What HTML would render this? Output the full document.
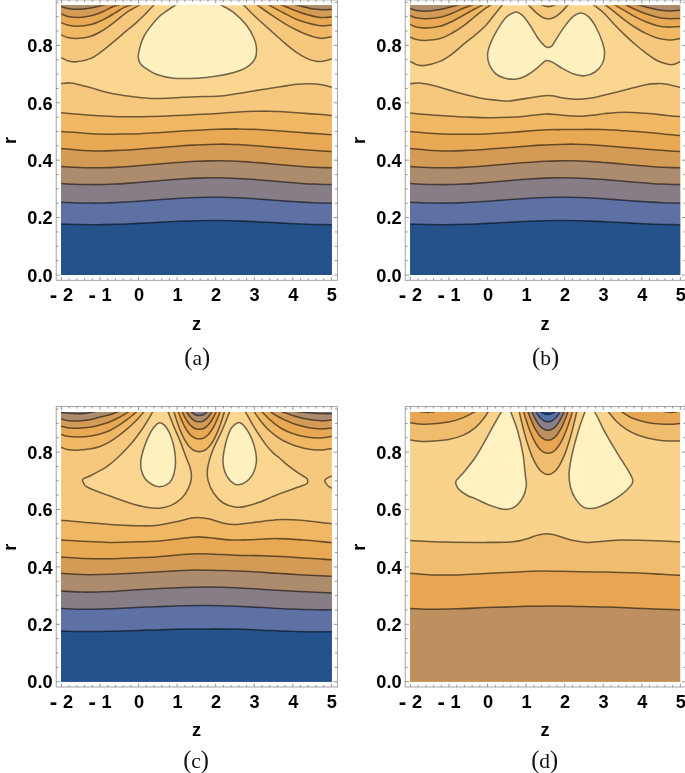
<!DOCTYPE html>
<html><head><meta charset="utf-8"><title>Contour plots</title>
<style>html,body{margin:0;padding:0;background:#fff}svg{display:block}</style></head>
<body>
<svg width="685" height="773" viewBox="0 0 685 773">
<defs><clipPath id="clipA"><rect x="0" y="0" width="270.7" height="269.8"/></clipPath><clipPath id="clipB"><rect x="0" y="0" width="270" height="269.8"/></clipPath></defs>
<rect width="685" height="773" fill="#fff"/>
<g transform="translate(61.1 5.2)" clip-path="url(#clipA)">
<rect x="-1" y="-1" width="272.7" height="271.8" fill="#FBD690"/>
<path d="M-6 52.6C-5 52.6 -2.1 52.12 0 52.6C2.1 53.08 4.02 54.83 6.6 55.5C9.18 56.17 11.62 56.98 15.5 56.6C19.38 56.22 25.55 55.05 29.9 53.2C34.25 51.35 37.7 48.37 41.6 45.5C45.5 42.63 49.4 39.25 53.3 36C57.2 32.75 61.38 29.07 65 26C68.62 22.93 71.67 20.6 75 17.6C78.33 14.6 82.07 10.93 85 8C87.93 5.07 90.7 2 92.6 0C94.5 -2 95.77 -3.34 96.4 -4.01L96.4 -8L-8 -8L-8 52.6Z" fill="#F6C87D"/>
<path d="M-6 29.8C-5 29.8 -2.1 29.37 0 29.8C2.1 30.23 3.93 31.82 6.6 32.4C9.27 32.98 12.12 33.53 16 33.3C19.88 33.07 25.63 32.35 29.9 31C34.17 29.65 37.7 27.53 41.6 25.2C45.5 22.87 49.4 19.93 53.3 17C57.2 14.07 60.88 10.43 65 7.6C69.12 4.77 74.75 1.9 78 0C81.25 -1.9 83.42 -3.17 84.5 -3.81L84.5 -8L-8 -8L-8 29.8Z" fill="#F0B865"/>
<path d="M-6 17.6C-5 17.6 -2.1 17.22 0 17.6C2.1 17.98 3.93 19.32 6.6 19.9C9.27 20.48 12.12 21.2 16 21.1C19.88 21 25.63 20.37 29.9 19.3C34.17 18.23 37.7 16.55 41.6 14.7C45.5 12.85 49.8 10.25 53.3 8.2C56.8 6.15 59.98 3.77 62.6 2.4C65.22 1.03 67.4 0.6 69 0C70.6 -0.6 71.67 -1.01 72.2 -1.21L72.2 -8L-8 -8L-8 17.6Z" fill="#E9A853"/>
<path d="M-6 8.8C-5 8.8 -2.1 8.4 0 8.8C2.1 9.2 3.75 10.62 6.6 11.2C9.45 11.78 13.22 12.4 17.1 12.3C20.98 12.2 25.82 11.57 29.9 10.6C33.98 9.63 38.08 7.97 41.6 6.5C45.12 5.03 48.52 2.88 51 1.8C53.48 0.72 55.12 0.45 56.5 0C57.88 -0.45 58.79 -0.76 59.25 -0.91L59.25 -8L-8 -8L-8 8.8Z" fill="#D49B56"/>
<path d="M-6 1.6C-5 1.6 -2.1 1.33 0 1.6C2.1 1.87 3.75 2.78 6.6 3.2C9.45 3.62 13.22 4.18 17.1 4.1C20.98 4.02 25.82 3.38 29.9 2.7C33.98 2.02 38.67 0.68 41.6 0C44.53 -0.68 46.48 -1.13 47.45 -1.36L47.45 -8L-8 -8L-8 1.6Z" fill="#AD8B6D"/>
<path d="M179.2 -3.76C179.8 -3.13 181 -1.88 182.8 0C184.6 1.88 187.32 4.87 190 7.5C192.68 10.13 195.47 12.67 198.9 15.8C202.33 18.93 206.7 22.8 210.6 26.3C214.5 29.8 218.42 33.48 222.3 36.8C226.18 40.12 230.02 43.47 233.9 46.2C237.78 48.93 242.1 51.55 245.6 53.2C249.1 54.85 252.17 55.62 254.9 56.1C257.63 56.58 259.37 56.48 262 56.1C264.63 55.72 268.08 54.49 270.7 53.8C273.32 53.11 276.53 52.26 277.7 51.95L278.7 -8L179.2 -8Z" fill="#F6C87D"/>
<path d="M195.45 -0.91C195.64 -0.76 196.02 -0.45 196.6 0C197.18 0.45 196.57 0.13 198.9 1.8C201.23 3.47 206.7 7.37 210.6 10C214.5 12.63 218.42 15.27 222.3 17.6C226.18 19.93 230.02 22.05 233.9 24C237.78 25.95 241.7 27.83 245.6 29.3C249.5 30.77 254.57 32.17 257.3 32.8C260.03 33.43 259.77 33.3 262 33.1C264.23 32.9 268.08 32.05 270.7 31.6C273.32 31.15 276.53 30.59 277.7 30.39L278.7 -8L195.45 -8Z" fill="#F0B865"/>
<path d="M201.15 -3.81C202.32 -3.17 204.67 -1.9 208.2 0C211.72 1.9 218.02 5.35 222.3 7.6C226.58 9.85 230.02 11.83 233.9 13.5C237.78 15.17 241.7 16.47 245.6 17.6C249.5 18.73 254.18 19.82 257.3 20.3C260.42 20.78 262.07 20.6 264.3 20.5C266.53 20.4 268.47 19.98 270.7 19.7C272.93 19.42 276.53 18.97 277.7 18.83L278.7 -8L201.15 -8Z" fill="#E9A853"/>
<path d="M214.7 -2.66C215.77 -2.22 217.9 -1.33 221.1 0C224.3 1.33 229.82 3.73 233.9 5.3C237.98 6.87 241.7 8.27 245.6 9.4C249.5 10.53 254.18 11.62 257.3 12.1C260.42 12.58 262.07 12.37 264.3 12.3C266.53 12.23 268.47 11.91 270.7 11.7C272.93 11.49 276.53 11.15 277.7 11.04L278.7 -8L214.7 -8Z" fill="#D49B56"/>
<path d="M230.45 -1.51C231.43 -1.26 233.38 -0.75 236.3 0C239.23 0.75 244.38 2.28 248 3C251.62 3.72 255.33 4.05 258 4.3C260.67 4.55 261.88 4.52 264 4.5C266.12 4.48 268.42 4.3 270.7 4.2C272.98 4.1 276.53 3.94 277.7 3.89L278.7 -8L230.45 -8Z" fill="#AD8B6D"/>
<path d="M119.05 -3.26C118.24 -2.72 116.62 -1.63 114.2 0C111.78 1.63 107.57 4.22 104.5 6.5C101.43 8.78 99.35 9.7 95.8 13.7C92.25 17.7 86.28 24.53 83.2 30.5C80.12 36.47 78 44.93 77.3 49.5C76.6 54.07 78.02 55.8 79 57.9C79.98 60 80.4 60.18 83.2 62.1C86 64.02 90.9 67.58 95.8 69.4C100.7 71.22 106.08 72.4 112.6 73C119.12 73.6 127.68 73.37 134.9 73C142.12 72.63 149.6 71.75 155.9 70.8C162.2 69.85 167.78 68.75 172.7 67.3C177.62 65.85 181.88 64.37 185.4 62.1C188.92 59.83 192.13 56.85 193.8 53.7C195.47 50.55 195.58 46.72 195.4 43.2C195.22 39.68 194.37 36.47 192.7 32.6C191.03 28.73 188.73 24.2 185.4 20C182.07 15.8 176.92 10.73 172.7 7.4C168.48 4.07 163.25 1.85 160.1 0C156.95 -1.85 154.85 -3.09 153.8 -3.71L153.8 -8L119.05 -8Z" fill="#FFF0C0"/>
<path d="M-6 78.5C-5 78.5 -2.6 78.62 0 78.5C2.6 78.38 5.2 77.28 9.6 77.8C14 78.32 20.08 79.98 26.4 81.6C32.72 83.22 40.48 85.92 47.5 87.5C54.52 89.08 61.5 90.15 68.5 91.1C75.5 92.05 82.5 92.92 89.5 93.2C96.5 93.48 102.93 93.08 110.5 92.8C118.07 92.52 127.33 91.78 134.9 91.5C142.47 91.22 148.9 91.63 155.9 91.1C162.9 90.57 169.88 89.35 176.9 88.3C183.92 87.25 190.98 85.92 198 84.8C205.02 83.68 212.7 82.55 219 81.6C225.3 80.65 230.9 79.62 235.8 79.1C240.7 78.58 244.2 78.43 248.4 78.5C252.6 78.57 257.22 78.92 261 79.5C264.78 80.08 268.48 81.58 271.1 82C273.72 82.42 275.77 82 276.7 82L276.7 274.8L-6 274.8Z" fill="#F6C87D"/>
<path d="M-6 107.5C-5 107.5 -3.65 107.27 0 107.5C3.65 107.73 9.75 108.38 15.9 108.9C22.05 109.42 29.88 110.17 36.9 110.6C43.92 111.03 50.98 111.35 58 111.5C65.02 111.65 72 111.58 79 111.5C86 111.42 93 111.25 100 111C107 110.75 115.18 110.27 121 110C126.82 109.73 129.08 109.68 134.9 109.4C140.72 109.12 148.9 108.73 155.9 108.3C162.9 107.87 169.88 107.18 176.9 106.8C183.92 106.42 192.73 106.13 198 106C203.27 105.87 205 105.93 208.5 106C212 106.07 213.75 106.08 219 106.4C224.25 106.72 233 107.4 240 107.9C247 108.4 255.82 108.98 261 109.4C266.18 109.82 268.48 110.23 271.1 110.4C273.72 110.57 275.77 110.4 276.7 110.4L276.7 274.8L-6 274.8Z" fill="#F0B865"/>
<path d="M-6 126.2C-5 126.2 -3.65 126 0 126.2C3.65 126.4 9.75 126.95 15.9 127.4C22.05 127.85 29.88 128.65 36.9 128.9C43.92 129.15 50.98 128.97 58 128.9C65.02 128.83 72 128.78 79 128.5C86 128.22 93 127.65 100 127.2C107 126.75 115.18 126.15 121 125.8C126.82 125.45 129.08 125.38 134.9 125.1C140.72 124.82 148.9 124.33 155.9 124.1C162.9 123.87 169.88 123.67 176.9 123.7C183.92 123.73 190.98 123.95 198 124.3C205.02 124.65 212 125.28 219 125.8C226 126.32 233 126.88 240 127.4C247 127.92 255.82 128.55 261 128.9C266.18 129.25 268.48 129.4 271.1 129.5C273.72 129.6 275.77 129.5 276.7 129.5L276.7 274.8L-6 274.8Z" fill="#E9A853"/>
<path d="M-6 143.2C-5 143.2 -3.65 142.95 0 143.2C3.65 143.45 9.75 144.28 15.9 144.7C22.05 145.12 29.88 145.63 36.9 145.7C43.92 145.77 50.98 145.42 58 145.1C65.02 144.78 72 144.28 79 143.8C86 143.32 93 142.75 100 142.2C107 141.65 115.18 140.9 121 140.5C126.82 140.1 129.08 140.05 134.9 139.8C140.72 139.55 150.65 139.13 155.9 139C161.15 138.87 162.9 138.93 166.4 139C169.9 139.07 171.63 139.08 176.9 139.4C182.17 139.72 190.98 140.37 198 140.9C205.02 141.43 212 142.03 219 142.6C226 143.17 233 143.78 240 144.3C247 144.82 255.82 145.35 261 145.7C266.18 146.05 268.48 146.28 271.1 146.4C273.72 146.52 275.77 146.4 276.7 146.4L276.7 274.8L-6 274.8Z" fill="#D49B56"/>
<path d="M-5 160.96C-3.05 161.1 2.8 161.54 6.7 161.76C10.59 161.99 14.49 162.18 18.39 162.32C22.29 162.46 26.19 162.55 30.09 162.58C33.99 162.62 37.88 162.6 41.78 162.53C45.68 162.46 49.58 162.33 53.48 162.16C57.38 161.99 61.28 161.77 65.17 161.51C69.07 161.26 72.97 160.96 76.87 160.65C80.77 160.33 84.67 159.98 88.57 159.64C92.47 159.29 96.36 158.92 100.26 158.58C104.16 158.23 108.06 157.88 111.96 157.57C115.86 157.26 119.76 156.95 123.65 156.7C127.55 156.45 131.45 156.22 135.35 156.05C139.25 155.88 143.15 155.75 147.05 155.68C150.94 155.6 154.84 155.58 158.74 155.62C162.64 155.65 166.54 155.74 170.44 155.87C174.34 156.01 178.23 156.2 182.13 156.43C186.03 156.65 189.93 156.93 193.83 157.22C197.73 157.52 201.63 157.86 205.52 158.19C209.42 158.53 213.32 158.9 217.22 159.24C221.12 159.59 225.02 159.95 228.92 160.28C232.82 160.61 236.71 160.93 240.61 161.21C244.51 161.49 248.41 161.75 252.31 161.95C256.21 162.15 260.11 162.32 264 162.43C267.9 162.53 273.75 162.57 275.7 162.6L275.7 274.8L-5 274.8Z" fill="#AD8B6D"/>
<path d="M-5 177.98C-3.05 178.1 2.8 178.51 6.7 178.71C10.59 178.92 14.49 179.09 18.39 179.2C22.29 179.32 26.19 179.38 30.09 179.4C33.99 179.41 37.88 179.37 41.78 179.28C45.68 179.19 49.58 179.05 53.48 178.87C57.38 178.69 61.28 178.45 65.17 178.19C69.07 177.93 72.97 177.63 76.87 177.32C80.77 177 84.67 176.66 88.57 176.32C92.47 175.98 96.36 175.62 100.26 175.29C104.16 174.96 108.06 174.63 111.96 174.33C115.86 174.04 119.76 173.76 123.65 173.52C127.55 173.29 131.45 173.09 135.35 172.94C139.25 172.79 143.15 172.69 147.05 172.64C150.94 172.59 154.84 172.59 158.74 172.64C162.64 172.69 166.54 172.8 170.44 172.95C174.34 173.1 178.23 173.31 182.13 173.54C186.03 173.77 189.93 174.06 193.83 174.35C197.73 174.65 201.63 174.98 205.52 175.32C209.42 175.65 213.32 176.01 217.22 176.34C221.12 176.68 225.02 177.03 228.92 177.34C232.82 177.65 236.71 177.95 240.61 178.21C244.51 178.47 248.41 178.7 252.31 178.88C256.21 179.06 260.11 179.2 264 179.29C267.9 179.37 273.75 179.38 275.7 179.4L275.7 274.8L-5 274.8Z" fill="#867D87"/>
<path d="M-5 196.71C-3.05 196.82 2.8 197.17 6.7 197.34C10.59 197.51 14.49 197.65 18.39 197.75C22.29 197.84 26.19 197.89 30.09 197.9C33.99 197.91 37.88 197.86 41.78 197.78C45.68 197.7 49.58 197.57 53.48 197.41C57.38 197.24 61.28 197.03 65.17 196.81C69.07 196.58 72.97 196.31 76.87 196.04C80.77 195.76 84.67 195.46 88.57 195.17C92.47 194.88 96.36 194.57 100.26 194.28C104.16 193.99 108.06 193.7 111.96 193.45C115.86 193.2 119.76 192.96 123.65 192.76C127.55 192.56 131.45 192.39 135.35 192.27C139.25 192.15 143.15 192.06 147.05 192.02C150.94 191.99 154.84 191.99 158.74 192.05C162.64 192.1 166.54 192.2 170.44 192.33C174.34 192.47 178.23 192.65 182.13 192.86C186.03 193.06 189.93 193.31 193.83 193.57C197.73 193.83 201.63 194.13 205.52 194.41C209.42 194.7 213.32 195.01 217.22 195.31C221.12 195.6 225.02 195.9 228.92 196.16C232.82 196.43 236.71 196.69 240.61 196.91C244.51 197.13 248.41 197.33 252.31 197.48C256.21 197.63 260.11 197.75 264 197.82C267.9 197.89 273.75 197.88 275.7 197.89L275.7 274.8L-5 274.8Z" fill="#5D71A5"/>
<path d="M-5 218.66C-3.05 218.73 2.8 218.98 6.7 219.1C10.59 219.22 14.49 219.33 18.39 219.39C22.29 219.46 26.19 219.5 30.09 219.5C33.99 219.5 37.88 219.47 41.78 219.42C45.68 219.36 49.58 219.26 53.48 219.15C57.38 219.03 61.28 218.88 65.17 218.72C69.07 218.56 72.97 218.37 76.87 218.17C80.77 217.98 84.67 217.76 88.57 217.56C92.47 217.35 96.36 217.13 100.26 216.92C104.16 216.72 108.06 216.51 111.96 216.33C115.86 216.15 119.76 215.98 123.65 215.84C127.55 215.7 131.45 215.58 135.35 215.49C139.25 215.41 143.15 215.34 147.05 215.32C150.94 215.29 154.84 215.3 158.74 215.33C162.64 215.37 166.54 215.44 170.44 215.54C174.34 215.63 178.23 215.76 182.13 215.91C186.03 216.06 189.93 216.23 193.83 216.42C197.73 216.6 201.63 216.81 205.52 217.02C209.42 217.22 213.32 217.45 217.22 217.65C221.12 217.86 225.02 218.07 228.92 218.26C232.82 218.45 236.71 218.64 240.61 218.8C244.51 218.95 248.41 219.09 252.31 219.2C256.21 219.31 260.11 219.39 264 219.44C267.9 219.49 273.75 219.49 275.7 219.5L275.7 274.8L-5 274.8Z" fill="#25528A"/>
<g stroke="#000" stroke-opacity="0.55" stroke-width="1.55" fill="none" stroke-linejoin="round">
<path d="M-6 52.6C-5 52.6 -2.1 52.12 0 52.6C2.1 53.08 4.02 54.83 6.6 55.5C9.18 56.17 11.62 56.98 15.5 56.6C19.38 56.22 25.55 55.05 29.9 53.2C34.25 51.35 37.7 48.37 41.6 45.5C45.5 42.63 49.4 39.25 53.3 36C57.2 32.75 61.38 29.07 65 26C68.62 22.93 71.67 20.6 75 17.6C78.33 14.6 82.07 10.93 85 8C87.93 5.07 90.7 2 92.6 0C94.5 -2 95.77 -3.34 96.4 -4.01"/>
<path d="M-6 29.8C-5 29.8 -2.1 29.37 0 29.8C2.1 30.23 3.93 31.82 6.6 32.4C9.27 32.98 12.12 33.53 16 33.3C19.88 33.07 25.63 32.35 29.9 31C34.17 29.65 37.7 27.53 41.6 25.2C45.5 22.87 49.4 19.93 53.3 17C57.2 14.07 60.88 10.43 65 7.6C69.12 4.77 74.75 1.9 78 0C81.25 -1.9 83.42 -3.17 84.5 -3.81"/>
<path d="M-6 17.6C-5 17.6 -2.1 17.22 0 17.6C2.1 17.98 3.93 19.32 6.6 19.9C9.27 20.48 12.12 21.2 16 21.1C19.88 21 25.63 20.37 29.9 19.3C34.17 18.23 37.7 16.55 41.6 14.7C45.5 12.85 49.8 10.25 53.3 8.2C56.8 6.15 59.98 3.77 62.6 2.4C65.22 1.03 67.4 0.6 69 0C70.6 -0.6 71.67 -1.01 72.2 -1.21"/>
<path d="M-6 8.8C-5 8.8 -2.1 8.4 0 8.8C2.1 9.2 3.75 10.62 6.6 11.2C9.45 11.78 13.22 12.4 17.1 12.3C20.98 12.2 25.82 11.57 29.9 10.6C33.98 9.63 38.08 7.97 41.6 6.5C45.12 5.03 48.52 2.88 51 1.8C53.48 0.72 55.12 0.45 56.5 0C57.88 -0.45 58.79 -0.76 59.25 -0.91"/>
<path d="M-6 1.6C-5 1.6 -2.1 1.33 0 1.6C2.1 1.87 3.75 2.78 6.6 3.2C9.45 3.62 13.22 4.18 17.1 4.1C20.98 4.02 25.82 3.38 29.9 2.7C33.98 2.02 38.67 0.68 41.6 0C44.53 -0.68 46.48 -1.13 47.45 -1.36"/>
<path d="M179.2 -3.76C179.8 -3.13 181 -1.88 182.8 0C184.6 1.88 187.32 4.87 190 7.5C192.68 10.13 195.47 12.67 198.9 15.8C202.33 18.93 206.7 22.8 210.6 26.3C214.5 29.8 218.42 33.48 222.3 36.8C226.18 40.12 230.02 43.47 233.9 46.2C237.78 48.93 242.1 51.55 245.6 53.2C249.1 54.85 252.17 55.62 254.9 56.1C257.63 56.58 259.37 56.48 262 56.1C264.63 55.72 268.08 54.49 270.7 53.8C273.32 53.11 276.53 52.26 277.7 51.95"/>
<path d="M195.45 -0.91C195.64 -0.76 196.02 -0.45 196.6 0C197.18 0.45 196.57 0.13 198.9 1.8C201.23 3.47 206.7 7.37 210.6 10C214.5 12.63 218.42 15.27 222.3 17.6C226.18 19.93 230.02 22.05 233.9 24C237.78 25.95 241.7 27.83 245.6 29.3C249.5 30.77 254.57 32.17 257.3 32.8C260.03 33.43 259.77 33.3 262 33.1C264.23 32.9 268.08 32.05 270.7 31.6C273.32 31.15 276.53 30.59 277.7 30.39"/>
<path d="M201.15 -3.81C202.32 -3.17 204.67 -1.9 208.2 0C211.72 1.9 218.02 5.35 222.3 7.6C226.58 9.85 230.02 11.83 233.9 13.5C237.78 15.17 241.7 16.47 245.6 17.6C249.5 18.73 254.18 19.82 257.3 20.3C260.42 20.78 262.07 20.6 264.3 20.5C266.53 20.4 268.47 19.98 270.7 19.7C272.93 19.42 276.53 18.97 277.7 18.83"/>
<path d="M214.7 -2.66C215.77 -2.22 217.9 -1.33 221.1 0C224.3 1.33 229.82 3.73 233.9 5.3C237.98 6.87 241.7 8.27 245.6 9.4C249.5 10.53 254.18 11.62 257.3 12.1C260.42 12.58 262.07 12.37 264.3 12.3C266.53 12.23 268.47 11.91 270.7 11.7C272.93 11.49 276.53 11.15 277.7 11.04"/>
<path d="M230.45 -1.51C231.43 -1.26 233.38 -0.75 236.3 0C239.23 0.75 244.38 2.28 248 3C251.62 3.72 255.33 4.05 258 4.3C260.67 4.55 261.88 4.52 264 4.5C266.12 4.48 268.42 4.3 270.7 4.2C272.98 4.1 276.53 3.94 277.7 3.89"/>
<path d="M119.05 -3.26C118.24 -2.72 116.62 -1.63 114.2 0C111.78 1.63 107.57 4.22 104.5 6.5C101.43 8.78 99.35 9.7 95.8 13.7C92.25 17.7 86.28 24.53 83.2 30.5C80.12 36.47 78 44.93 77.3 49.5C76.6 54.07 78.02 55.8 79 57.9C79.98 60 80.4 60.18 83.2 62.1C86 64.02 90.9 67.58 95.8 69.4C100.7 71.22 106.08 72.4 112.6 73C119.12 73.6 127.68 73.37 134.9 73C142.12 72.63 149.6 71.75 155.9 70.8C162.2 69.85 167.78 68.75 172.7 67.3C177.62 65.85 181.88 64.37 185.4 62.1C188.92 59.83 192.13 56.85 193.8 53.7C195.47 50.55 195.58 46.72 195.4 43.2C195.22 39.68 194.37 36.47 192.7 32.6C191.03 28.73 188.73 24.2 185.4 20C182.07 15.8 176.92 10.73 172.7 7.4C168.48 4.07 163.25 1.85 160.1 0C156.95 -1.85 154.85 -3.09 153.8 -3.71"/>
<path d="M-6 78.5C-5 78.5 -2.6 78.62 0 78.5C2.6 78.38 5.2 77.28 9.6 77.8C14 78.32 20.08 79.98 26.4 81.6C32.72 83.22 40.48 85.92 47.5 87.5C54.52 89.08 61.5 90.15 68.5 91.1C75.5 92.05 82.5 92.92 89.5 93.2C96.5 93.48 102.93 93.08 110.5 92.8C118.07 92.52 127.33 91.78 134.9 91.5C142.47 91.22 148.9 91.63 155.9 91.1C162.9 90.57 169.88 89.35 176.9 88.3C183.92 87.25 190.98 85.92 198 84.8C205.02 83.68 212.7 82.55 219 81.6C225.3 80.65 230.9 79.62 235.8 79.1C240.7 78.58 244.2 78.43 248.4 78.5C252.6 78.57 257.22 78.92 261 79.5C264.78 80.08 268.48 81.58 271.1 82C273.72 82.42 275.77 82 276.7 82"/>
<path d="M-6 107.5C-5 107.5 -3.65 107.27 0 107.5C3.65 107.73 9.75 108.38 15.9 108.9C22.05 109.42 29.88 110.17 36.9 110.6C43.92 111.03 50.98 111.35 58 111.5C65.02 111.65 72 111.58 79 111.5C86 111.42 93 111.25 100 111C107 110.75 115.18 110.27 121 110C126.82 109.73 129.08 109.68 134.9 109.4C140.72 109.12 148.9 108.73 155.9 108.3C162.9 107.87 169.88 107.18 176.9 106.8C183.92 106.42 192.73 106.13 198 106C203.27 105.87 205 105.93 208.5 106C212 106.07 213.75 106.08 219 106.4C224.25 106.72 233 107.4 240 107.9C247 108.4 255.82 108.98 261 109.4C266.18 109.82 268.48 110.23 271.1 110.4C273.72 110.57 275.77 110.4 276.7 110.4"/>
<path d="M-6 126.2C-5 126.2 -3.65 126 0 126.2C3.65 126.4 9.75 126.95 15.9 127.4C22.05 127.85 29.88 128.65 36.9 128.9C43.92 129.15 50.98 128.97 58 128.9C65.02 128.83 72 128.78 79 128.5C86 128.22 93 127.65 100 127.2C107 126.75 115.18 126.15 121 125.8C126.82 125.45 129.08 125.38 134.9 125.1C140.72 124.82 148.9 124.33 155.9 124.1C162.9 123.87 169.88 123.67 176.9 123.7C183.92 123.73 190.98 123.95 198 124.3C205.02 124.65 212 125.28 219 125.8C226 126.32 233 126.88 240 127.4C247 127.92 255.82 128.55 261 128.9C266.18 129.25 268.48 129.4 271.1 129.5C273.72 129.6 275.77 129.5 276.7 129.5"/>
<path d="M-6 143.2C-5 143.2 -3.65 142.95 0 143.2C3.65 143.45 9.75 144.28 15.9 144.7C22.05 145.12 29.88 145.63 36.9 145.7C43.92 145.77 50.98 145.42 58 145.1C65.02 144.78 72 144.28 79 143.8C86 143.32 93 142.75 100 142.2C107 141.65 115.18 140.9 121 140.5C126.82 140.1 129.08 140.05 134.9 139.8C140.72 139.55 150.65 139.13 155.9 139C161.15 138.87 162.9 138.93 166.4 139C169.9 139.07 171.63 139.08 176.9 139.4C182.17 139.72 190.98 140.37 198 140.9C205.02 141.43 212 142.03 219 142.6C226 143.17 233 143.78 240 144.3C247 144.82 255.82 145.35 261 145.7C266.18 146.05 268.48 146.28 271.1 146.4C273.72 146.52 275.77 146.4 276.7 146.4"/>
<path d="M-5 160.96C-3.05 161.1 2.8 161.54 6.7 161.76C10.59 161.99 14.49 162.18 18.39 162.32C22.29 162.46 26.19 162.55 30.09 162.58C33.99 162.62 37.88 162.6 41.78 162.53C45.68 162.46 49.58 162.33 53.48 162.16C57.38 161.99 61.28 161.77 65.17 161.51C69.07 161.26 72.97 160.96 76.87 160.65C80.77 160.33 84.67 159.98 88.57 159.64C92.47 159.29 96.36 158.92 100.26 158.58C104.16 158.23 108.06 157.88 111.96 157.57C115.86 157.26 119.76 156.95 123.65 156.7C127.55 156.45 131.45 156.22 135.35 156.05C139.25 155.88 143.15 155.75 147.05 155.68C150.94 155.6 154.84 155.58 158.74 155.62C162.64 155.65 166.54 155.74 170.44 155.87C174.34 156.01 178.23 156.2 182.13 156.43C186.03 156.65 189.93 156.93 193.83 157.22C197.73 157.52 201.63 157.86 205.52 158.19C209.42 158.53 213.32 158.9 217.22 159.24C221.12 159.59 225.02 159.95 228.92 160.28C232.82 160.61 236.71 160.93 240.61 161.21C244.51 161.49 248.41 161.75 252.31 161.95C256.21 162.15 260.11 162.32 264 162.43C267.9 162.53 273.75 162.57 275.7 162.6"/>
<path d="M-5 177.98C-3.05 178.1 2.8 178.51 6.7 178.71C10.59 178.92 14.49 179.09 18.39 179.2C22.29 179.32 26.19 179.38 30.09 179.4C33.99 179.41 37.88 179.37 41.78 179.28C45.68 179.19 49.58 179.05 53.48 178.87C57.38 178.69 61.28 178.45 65.17 178.19C69.07 177.93 72.97 177.63 76.87 177.32C80.77 177 84.67 176.66 88.57 176.32C92.47 175.98 96.36 175.62 100.26 175.29C104.16 174.96 108.06 174.63 111.96 174.33C115.86 174.04 119.76 173.76 123.65 173.52C127.55 173.29 131.45 173.09 135.35 172.94C139.25 172.79 143.15 172.69 147.05 172.64C150.94 172.59 154.84 172.59 158.74 172.64C162.64 172.69 166.54 172.8 170.44 172.95C174.34 173.1 178.23 173.31 182.13 173.54C186.03 173.77 189.93 174.06 193.83 174.35C197.73 174.65 201.63 174.98 205.52 175.32C209.42 175.65 213.32 176.01 217.22 176.34C221.12 176.68 225.02 177.03 228.92 177.34C232.82 177.65 236.71 177.95 240.61 178.21C244.51 178.47 248.41 178.7 252.31 178.88C256.21 179.06 260.11 179.2 264 179.29C267.9 179.37 273.75 179.38 275.7 179.4"/>
<path d="M-5 196.71C-3.05 196.82 2.8 197.17 6.7 197.34C10.59 197.51 14.49 197.65 18.39 197.75C22.29 197.84 26.19 197.89 30.09 197.9C33.99 197.91 37.88 197.86 41.78 197.78C45.68 197.7 49.58 197.57 53.48 197.41C57.38 197.24 61.28 197.03 65.17 196.81C69.07 196.58 72.97 196.31 76.87 196.04C80.77 195.76 84.67 195.46 88.57 195.17C92.47 194.88 96.36 194.57 100.26 194.28C104.16 193.99 108.06 193.7 111.96 193.45C115.86 193.2 119.76 192.96 123.65 192.76C127.55 192.56 131.45 192.39 135.35 192.27C139.25 192.15 143.15 192.06 147.05 192.02C150.94 191.99 154.84 191.99 158.74 192.05C162.64 192.1 166.54 192.2 170.44 192.33C174.34 192.47 178.23 192.65 182.13 192.86C186.03 193.06 189.93 193.31 193.83 193.57C197.73 193.83 201.63 194.13 205.52 194.41C209.42 194.7 213.32 195.01 217.22 195.31C221.12 195.6 225.02 195.9 228.92 196.16C232.82 196.43 236.71 196.69 240.61 196.91C244.51 197.13 248.41 197.33 252.31 197.48C256.21 197.63 260.11 197.75 264 197.82C267.9 197.89 273.75 197.88 275.7 197.89"/>
<path d="M-5 218.66C-3.05 218.73 2.8 218.98 6.7 219.1C10.59 219.22 14.49 219.33 18.39 219.39C22.29 219.46 26.19 219.5 30.09 219.5C33.99 219.5 37.88 219.47 41.78 219.42C45.68 219.36 49.58 219.26 53.48 219.15C57.38 219.03 61.28 218.88 65.17 218.72C69.07 218.56 72.97 218.37 76.87 218.17C80.77 217.98 84.67 217.76 88.57 217.56C92.47 217.35 96.36 217.13 100.26 216.92C104.16 216.72 108.06 216.51 111.96 216.33C115.86 216.15 119.76 215.98 123.65 215.84C127.55 215.7 131.45 215.58 135.35 215.49C139.25 215.41 143.15 215.34 147.05 215.32C150.94 215.29 154.84 215.3 158.74 215.33C162.64 215.37 166.54 215.44 170.44 215.54C174.34 215.63 178.23 215.76 182.13 215.91C186.03 216.06 189.93 216.23 193.83 216.42C197.73 216.6 201.63 216.81 205.52 217.02C209.42 217.22 213.32 217.45 217.22 217.65C221.12 217.86 225.02 218.07 228.92 218.26C232.82 218.45 236.71 218.64 240.61 218.8C244.51 218.95 248.41 219.09 252.31 219.2C256.21 219.31 260.11 219.39 264 219.44C267.9 219.49 273.75 219.49 275.7 219.5"/>
</g>
</g>
<rect x="56.2" y="-0.1" width="281.2" height="280.4" fill="none" stroke="#9a9a9a" stroke-width="0.9"/>
<path d="M61.45 280.3v-3.4 M61.45 -0.1v3.4 M69.16 280.3v-2 M69.16 -0.1v2 M76.87 280.3v-2 M76.87 -0.1v2 M84.59 280.3v-2 M84.59 -0.1v2 M92.3 280.3v-2 M92.3 -0.1v2 M100.01 280.3v-3.4 M100.01 -0.1v3.4 M107.72 280.3v-2 M107.72 -0.1v2 M115.43 280.3v-2 M115.43 -0.1v2 M123.15 280.3v-2 M123.15 -0.1v2 M130.86 280.3v-2 M130.86 -0.1v2 M138.57 280.3v-3.4 M138.57 -0.1v3.4 M146.28 280.3v-2 M146.28 -0.1v2 M153.99 280.3v-2 M153.99 -0.1v2 M161.71 280.3v-2 M161.71 -0.1v2 M169.42 280.3v-2 M169.42 -0.1v2 M177.13 280.3v-3.4 M177.13 -0.1v3.4 M184.84 280.3v-2 M184.84 -0.1v2 M192.55 280.3v-2 M192.55 -0.1v2 M200.27 280.3v-2 M200.27 -0.1v2 M207.98 280.3v-2 M207.98 -0.1v2 M215.69 280.3v-3.4 M215.69 -0.1v3.4 M223.4 280.3v-2 M223.4 -0.1v2 M231.11 280.3v-2 M231.11 -0.1v2 M238.83 280.3v-2 M238.83 -0.1v2 M246.54 280.3v-2 M246.54 -0.1v2 M254.25 280.3v-3.4 M254.25 -0.1v3.4 M261.96 280.3v-2 M261.96 -0.1v2 M269.67 280.3v-2 M269.67 -0.1v2 M277.39 280.3v-2 M277.39 -0.1v2 M285.1 280.3v-2 M285.1 -0.1v2 M292.81 280.3v-3.4 M292.81 -0.1v3.4 M300.52 280.3v-2 M300.52 -0.1v2 M308.23 280.3v-2 M308.23 -0.1v2 M315.95 280.3v-2 M315.95 -0.1v2 M323.66 280.3v-2 M323.66 -0.1v2 M331.37 280.3v-3.4 M331.37 -0.1v3.4 M56.2 275h3.8 M337.4 275h-3.8 M56.2 260.65h2.4 M337.4 260.65h-2.4 M56.2 246.3h2.4 M337.4 246.3h-2.4 M56.2 231.95h2.4 M337.4 231.95h-2.4 M56.2 217.6h3.8 M337.4 217.6h-3.8 M56.2 203.25h2.4 M337.4 203.25h-2.4 M56.2 188.9h2.4 M337.4 188.9h-2.4 M56.2 174.55h2.4 M337.4 174.55h-2.4 M56.2 160.2h3.8 M337.4 160.2h-3.8 M56.2 145.85h2.4 M337.4 145.85h-2.4 M56.2 131.5h2.4 M337.4 131.5h-2.4 M56.2 117.15h2.4 M337.4 117.15h-2.4 M56.2 102.8h3.8 M337.4 102.8h-3.8 M56.2 88.45h2.4 M337.4 88.45h-2.4 M56.2 74.1h2.4 M337.4 74.1h-2.4 M56.2 59.75h2.4 M337.4 59.75h-2.4 M56.2 45.4h3.8 M337.4 45.4h-3.8 M56.2 31.05h2.4 M337.4 31.05h-2.4 M56.2 16.7h2.4 M337.4 16.7h-2.4 M56.2 2.35h2.4 M337.4 2.35h-2.4 " stroke="#6e6e6e" stroke-width="0.7" fill="none"/>
<g font-family="Liberation Sans, Arial, Helvetica, sans-serif" font-weight="bold" font-size="18.2px" fill="#000">
<text x="52.6" y="281.7" text-anchor="end">0.0</text>
<text x="52.6" y="224.3" text-anchor="end">0.2</text>
<text x="52.6" y="166.9" text-anchor="end">0.4</text>
<text x="52.6" y="109.5" text-anchor="end">0.6</text>
<text x="52.6" y="52.1" text-anchor="end">0.8</text>
<text x="49.85" y="300.9"><tspan font-size="22.4px" dy="1.2">-</tspan><tspan dy="-1.2" dx="5.6">2</tspan></text>
<text x="88.41" y="300.9"><tspan font-size="22.4px" dy="1.2">-</tspan><tspan dy="-1.2" dx="5.6">1</tspan></text>
<text x="138.97" y="300.9" text-anchor="middle">0</text>
<text x="177.53" y="300.9" text-anchor="middle">1</text>
<text x="216.09" y="300.9" text-anchor="middle">2</text>
<text x="254.65" y="300.9" text-anchor="middle">3</text>
<text x="293.21" y="300.9" text-anchor="middle">4</text>
<text x="331.77" y="300.9" text-anchor="middle">5</text>
<text x="196.45" y="329.7" text-anchor="middle">z</text>
<text transform="translate(16.1 140.4) rotate(-90)" text-anchor="middle">r</text>
</g>
<text x="197.25" y="364.9" text-anchor="middle" font-family="Liberation Serif, serif" font-size="21.5px" fill="#111"><tspan font-size="24.5px">(</tspan>a<tspan font-size="24.5px">)</tspan></text>
<g transform="translate(410.1 5.2)" clip-path="url(#clipB)">
<rect x="-1" y="-1" width="272.7" height="271.8" fill="#FBD690"/>
<path d="M-6 56.2C-5 56.2 -2 55.7 0 56.2C2 56.7 3.55 58.52 6 59.2C8.45 59.88 10.72 60.8 14.7 60.3C18.68 59.8 25.42 58.05 29.9 56.2C34.38 54.35 37.7 52.03 41.6 49.2C45.5 46.37 49.4 42.42 53.3 39.2C57.2 35.98 61.4 32.92 65 29.9C68.6 26.88 71.73 24.42 74.9 21.1C78.07 17.78 81.15 13.52 84 10C86.85 6.48 90 2.5 92 0C94 -2.5 95.33 -4.17 96 -5.01L96 -8L-8 -8L-8 56.2Z" fill="#F6C87D"/>
<path d="M-6 32C-5 32 -2 31.62 0 32C2 32.38 3.35 33.77 6 34.3C8.65 34.83 11.92 35.35 15.9 35.2C19.88 35.05 25.62 34.58 29.9 33.4C34.18 32.22 37.7 30.23 41.6 28.1C45.5 25.97 49.4 23.42 53.3 20.6C57.2 17.78 61.4 14.05 65 11.2C68.6 8.35 72.32 5.37 74.9 3.5C77.48 1.63 79.1 0.88 80.5 0C81.9 -0.88 82.83 -1.47 83.3 -1.76L83.3 -8L-8 -8L-8 32Z" fill="#F0B865"/>
<path d="M-6 19.4C-5 19.4 -2 19 0 19.4C2 19.8 3.35 21.22 6 21.8C8.65 22.38 11.92 23.02 15.9 22.9C19.88 22.78 25.62 22.17 29.9 21.1C34.18 20.03 37.7 18.35 41.6 16.5C45.5 14.65 49.4 12.15 53.3 10C57.2 7.85 61.88 5.27 65 3.6C68.12 1.93 70.25 0.9 72 0C73.75 -0.9 74.92 -1.51 75.5 -1.81L75.5 -8L-8 -8L-8 19.4Z" fill="#E9A853"/>
<path d="M-6 10.6C-5 10.6 -2 10.27 0 10.6C2 10.93 3.35 12.12 6 12.6C8.65 13.08 11.92 13.58 15.9 13.5C19.88 13.42 25.62 12.97 29.9 12.1C34.18 11.23 37.7 9.82 41.6 8.3C45.5 6.78 50 4.38 53.3 3C56.6 1.62 59.38 0.75 61.4 0C63.42 -0.75 64.78 -1.26 65.45 -1.51L65.45 -8L-8 -8L-8 10.6Z" fill="#D49B56"/>
<path d="M-6 3.6C-5 3.6 -2 3.33 0 3.6C2 3.87 3.55 4.81 6 5.2C8.45 5.59 10.72 6.12 14.7 5.95C18.68 5.78 24.55 5.19 29.9 4.2C35.25 3.21 42.57 1.05 46.8 0C51.02 -1.05 53.84 -1.76 55.25 -2.11L55.25 -8L-8 -8L-8 3.6Z" fill="#AD8B6D"/>
<path d="M179.15 -3.76C179.94 -3.13 181.53 -1.88 183.9 0C186.28 1.88 190.05 4.32 193.4 7.5C196.75 10.68 200.47 15.4 204 19.1C207.53 22.8 211.07 26.33 214.6 29.7C218.13 33.07 221.68 36.3 225.2 39.3C228.72 42.3 232.18 45.07 235.7 47.7C239.22 50.33 242.77 53.23 246.3 55.1C249.83 56.97 254.07 58.18 256.9 58.9C259.73 59.62 261.12 59.78 263.3 59.4C265.48 59.02 267.6 57.6 270 56.6C272.4 55.6 276.42 53.92 277.7 53.38L278.7 -8L179.15 -8Z" fill="#F6C87D"/>
<path d="M191.25 -3.21C191.96 -2.67 193.38 -1.6 195.5 0C197.62 1.6 200.82 3.92 204 6.4C207.18 8.88 211.07 12.25 214.6 14.9C218.13 17.55 221.68 20.08 225.2 22.3C228.72 24.52 232.18 26.5 235.7 28.2C239.22 29.9 242.77 31.43 246.3 32.5C249.83 33.57 254.07 34.25 256.9 34.6C259.73 34.95 261.12 34.82 263.3 34.6C265.48 34.38 267.6 33.77 270 33.3C272.4 32.83 276.42 32.05 277.7 31.81L278.7 -8L191.25 -8Z" fill="#F0B865"/>
<path d="M200.2 -2.71C201 -2.26 202.6 -1.35 205 0C207.4 1.35 211.23 3.45 214.6 5.4C217.97 7.35 221.68 9.83 225.2 11.7C228.72 13.57 232.18 15.18 235.7 16.6C239.22 18.02 242.77 19.32 246.3 20.2C249.83 21.08 252.95 21.72 256.9 21.9C260.85 22.08 266.53 21.46 270 21.3C273.47 21.14 276.42 21.01 277.7 20.95L278.7 -8L200.2 -8Z" fill="#E9A853"/>
<path d="M212.45 -2.16C213.16 -1.8 214.57 -1.08 216.7 0C218.82 1.08 222.03 2.87 225.2 4.3C228.37 5.73 232.18 7.37 235.7 8.6C239.22 9.83 242.77 10.9 246.3 11.7C249.83 12.5 252.95 13.15 256.9 13.4C260.85 13.65 266.53 13.25 270 13.2C273.47 13.15 276.42 13.1 277.7 13.08L278.7 -8L212.45 -8Z" fill="#D49B56"/>
<path d="M224.1 -1.41C224.98 -1.17 226.75 -0.7 229.4 0C232.05 0.7 236.12 1.9 240 2.8C243.88 3.7 249.18 4.9 252.7 5.4C256.22 5.9 258.22 5.87 261.1 5.8C263.98 5.73 267.23 5.25 270 5C272.77 4.75 276.42 4.42 277.7 4.31L278.7 -8L224.1 -8Z" fill="#AD8B6D"/>
<path d="M138.2 42.2C136.95 42.23 136.28 42.32 134.5 40.7C132.72 39.08 129.83 35.77 127.5 32.5C125.17 29.23 122.83 24.62 120.5 21.1C118.17 17.58 115.4 13.6 113.5 11.4C111.6 9.2 110.57 8.62 109.1 7.9C107.63 7.18 106.9 6.37 104.7 7.1C102.5 7.83 98.82 9.38 95.9 12.3C92.98 15.22 89.82 20.22 87.2 24.6C84.58 28.98 81.82 34.52 80.2 38.6C78.58 42.68 77.65 45.6 77.5 49.1C77.35 52.6 77.98 56.38 79.3 59.6C80.62 62.82 82.92 66.2 85.4 68.4C87.88 70.6 90.98 71.87 94.2 72.8C97.42 73.73 101.2 74.3 104.7 74C108.2 73.7 111.7 72.67 115.2 71C118.7 69.33 122.48 66.48 125.7 64C128.92 61.52 132.42 57.52 134.5 56.1C136.58 54.68 136.85 55.32 138.2 55.5C139.55 55.68 140.45 56.03 142.6 57.2C144.75 58.37 147.57 60.55 151.1 62.5C154.63 64.45 159.92 67.55 163.8 68.9C167.68 70.25 170.88 70.95 174.4 70.6C177.92 70.25 181.92 68.85 184.9 66.8C187.88 64.75 190.7 61.48 192.3 58.3C193.9 55.12 194.5 51.23 194.5 47.7C194.5 44.17 193.72 41.33 192.3 37.1C190.88 32.87 188.28 26.53 186 22.3C183.72 18.07 181.07 14.1 178.6 11.7C176.13 9.3 173.67 8.07 171.2 7.9C168.73 7.73 166.45 8.65 163.8 10.7C161.15 12.75 158.13 16.5 155.3 20.2C152.47 23.9 149.02 29.52 146.8 32.9C144.58 36.28 143.43 38.95 142 40.5C140.57 42.05 139.45 42.17 138.2 42.2Z" fill="#FFF0C0"/>
<path d="M115.2 -3.56C115.78 -2.97 116.95 -1.78 118.7 0C120.45 1.78 123.37 5.05 125.7 7.1C128.03 9.15 130.62 11.2 132.7 12.3C134.78 13.4 136.32 13.7 138.2 13.7C140.08 13.7 141.87 13.4 144 12.3C146.13 11.2 148.73 9.15 151 7.1C153.27 5.05 155.95 1.78 157.6 0C159.25 -1.78 160.35 -2.97 160.9 -3.56L160.9 -8L115.2 -8Z" fill="#F6C87D"/>
<path d="M131.3 -0.51C131.53 -0.42 132 -0.25 132.7 0C133.4 0.25 134.58 0.77 135.5 1C136.42 1.23 137.28 1.4 138.2 1.4C139.12 1.4 140.05 1.23 141 1C141.95 0.77 143.18 0.25 143.9 0C144.62 -0.25 145.11 -0.42 145.35 -0.51L145.35 -8L131.3 -8Z" fill="#F0B865"/>
<path d="M-6 78.5C-5 78.5 -2.6 78.62 0 78.5C2.6 78.38 5.23 77.38 9.6 77.8C13.97 78.22 19.92 79.42 26.2 81C32.48 82.58 40.28 85.38 47.3 87.3C54.32 89.22 61.3 91.17 68.3 92.5C75.3 93.83 84.05 94.77 89.3 95.3C94.55 95.83 94.55 96.17 99.8 95.7C105.05 95.23 115.43 93.33 120.8 92.5C126.17 91.67 129.1 91.07 132 90.7C134.9 90.33 136.2 90.27 138.2 90.3C140.2 90.33 141.85 90.52 144 90.9C146.15 91.28 148.15 92.1 151.1 92.6C154.05 93.1 158.18 93.68 161.7 93.9C165.22 94.12 168.68 94.12 172.2 93.9C175.72 93.68 179.27 93.23 182.8 92.6C186.33 91.97 188.1 91.4 193.4 90.1C198.7 88.8 207.55 86.57 214.6 84.8C221.65 83.03 230.07 80.57 235.7 79.5C241.33 78.43 244.87 78.48 248.4 78.4C251.93 78.32 253.3 78.4 256.9 79C260.5 79.6 266.7 81.5 270 82C273.3 82.5 275.58 82 276.7 82L276.7 274.8L-6 274.8Z" fill="#F6C87D"/>
<path d="M-6 107.9C-5 107.9 -3.62 107.65 0 107.9C3.62 108.15 9.58 108.92 15.7 109.4C21.82 109.88 29.68 110.38 36.7 110.8C43.72 111.22 50.78 111.62 57.8 111.9C64.82 112.18 71.8 112.47 78.8 112.5C85.8 112.53 93.77 112.35 99.8 112.1C105.83 111.85 110.47 111.43 115 111C119.53 110.57 123.5 109.88 127 109.5C130.5 109.12 132.83 108.73 136 108.7C139.17 108.67 142.33 108.98 146 109.3C149.67 109.62 153.63 110.32 158 110.6C162.37 110.88 167.87 111.12 172.2 111C176.53 110.88 180.2 110.35 184 109.9C187.8 109.45 189.9 108.78 195 108.3C200.1 107.82 207.82 107.03 214.6 107C221.38 106.97 228.65 107.57 235.7 108.1C242.75 108.63 251.18 109.68 256.9 110.2C262.62 110.72 266.7 111.03 270 111.2C273.3 111.37 275.58 111.2 276.7 111.2L276.7 274.8L-6 274.8Z" fill="#F0B865"/>
<path d="M-6 126.3C-5 126.3 -3.65 126.05 0 126.3C3.65 126.55 9.23 127.35 15.9 127.8C22.57 128.25 32.98 128.78 40 129C47.02 129.22 51.5 129.18 58 129.1C64.5 129.02 72 128.82 79 128.5C86 128.18 93 127.68 100 127.2C107 126.72 114.67 126.05 121 125.6C127.33 125.15 132.98 124.7 138 124.5C143.02 124.3 145.4 124.45 151.1 124.4C156.8 124.35 165.15 124.2 172.2 124.2C179.25 124.2 186.33 124.17 193.4 124.4C200.47 124.63 207.55 125.15 214.6 125.6C221.65 126.05 228.65 126.5 235.7 127.1C242.75 127.7 251.18 128.67 256.9 129.2C262.62 129.73 266.7 130.12 270 130.3C273.3 130.48 275.58 130.3 276.7 130.3L276.7 274.8L-6 274.8Z" fill="#E9A853"/>
<path d="M-6 143.2C-5 143.2 -3.65 142.95 0 143.2C3.65 143.45 9.75 144.28 15.9 144.7C22.05 145.12 29.88 145.63 36.9 145.7C43.92 145.77 50.98 145.42 58 145.1C65.02 144.78 72 144.28 79 143.8C86 143.32 93 142.75 100 142.2C107 141.65 115.18 140.9 121 140.5C126.82 140.1 129.08 140.05 134.9 139.8C140.72 139.55 150.65 139.13 155.9 139C161.15 138.87 162.9 138.93 166.4 139C169.9 139.07 171.63 139.08 176.9 139.4C182.17 139.72 190.98 140.37 198 140.9C205.02 141.43 212 142.03 219 142.6C226 143.17 233 143.78 240 144.3C247 144.82 255.82 145.35 261 145.7C266.18 146.05 268.48 146.28 271.1 146.4C273.72 146.52 275.77 146.4 276.7 146.4L276.7 274.8L-6 274.8Z" fill="#D49B56"/>
<path d="M-5 160.96C-3.05 161.1 2.8 161.54 6.7 161.76C10.59 161.99 14.49 162.18 18.39 162.32C22.29 162.46 26.19 162.55 30.09 162.58C33.99 162.62 37.88 162.6 41.78 162.53C45.68 162.46 49.58 162.33 53.48 162.16C57.38 161.99 61.28 161.77 65.17 161.51C69.07 161.26 72.97 160.96 76.87 160.65C80.77 160.33 84.67 159.98 88.57 159.64C92.47 159.29 96.36 158.92 100.26 158.58C104.16 158.23 108.06 157.88 111.96 157.57C115.86 157.26 119.76 156.95 123.65 156.7C127.55 156.45 131.45 156.22 135.35 156.05C139.25 155.88 143.15 155.75 147.05 155.68C150.94 155.6 154.84 155.58 158.74 155.62C162.64 155.65 166.54 155.74 170.44 155.87C174.34 156.01 178.23 156.2 182.13 156.43C186.03 156.65 189.93 156.93 193.83 157.22C197.73 157.52 201.63 157.86 205.52 158.19C209.42 158.53 213.32 158.9 217.22 159.24C221.12 159.59 225.02 159.95 228.92 160.28C232.82 160.61 236.71 160.93 240.61 161.21C244.51 161.49 248.41 161.75 252.31 161.95C256.21 162.15 260.11 162.32 264 162.43C267.9 162.53 273.75 162.57 275.7 162.6L275.7 274.8L-5 274.8Z" fill="#AD8B6D"/>
<path d="M-5 177.98C-3.05 178.1 2.8 178.51 6.7 178.71C10.59 178.92 14.49 179.09 18.39 179.2C22.29 179.32 26.19 179.38 30.09 179.4C33.99 179.41 37.88 179.37 41.78 179.28C45.68 179.19 49.58 179.05 53.48 178.87C57.38 178.69 61.28 178.45 65.17 178.19C69.07 177.93 72.97 177.63 76.87 177.32C80.77 177 84.67 176.66 88.57 176.32C92.47 175.98 96.36 175.62 100.26 175.29C104.16 174.96 108.06 174.63 111.96 174.33C115.86 174.04 119.76 173.76 123.65 173.52C127.55 173.29 131.45 173.09 135.35 172.94C139.25 172.79 143.15 172.69 147.05 172.64C150.94 172.59 154.84 172.59 158.74 172.64C162.64 172.69 166.54 172.8 170.44 172.95C174.34 173.1 178.23 173.31 182.13 173.54C186.03 173.77 189.93 174.06 193.83 174.35C197.73 174.65 201.63 174.98 205.52 175.32C209.42 175.65 213.32 176.01 217.22 176.34C221.12 176.68 225.02 177.03 228.92 177.34C232.82 177.65 236.71 177.95 240.61 178.21C244.51 178.47 248.41 178.7 252.31 178.88C256.21 179.06 260.11 179.2 264 179.29C267.9 179.37 273.75 179.38 275.7 179.4L275.7 274.8L-5 274.8Z" fill="#867D87"/>
<path d="M-5 196.71C-3.05 196.82 2.8 197.17 6.7 197.34C10.59 197.51 14.49 197.65 18.39 197.75C22.29 197.84 26.19 197.89 30.09 197.9C33.99 197.91 37.88 197.86 41.78 197.78C45.68 197.7 49.58 197.57 53.48 197.41C57.38 197.24 61.28 197.03 65.17 196.81C69.07 196.58 72.97 196.31 76.87 196.04C80.77 195.76 84.67 195.46 88.57 195.17C92.47 194.88 96.36 194.57 100.26 194.28C104.16 193.99 108.06 193.7 111.96 193.45C115.86 193.2 119.76 192.96 123.65 192.76C127.55 192.56 131.45 192.39 135.35 192.27C139.25 192.15 143.15 192.06 147.05 192.02C150.94 191.99 154.84 191.99 158.74 192.05C162.64 192.1 166.54 192.2 170.44 192.33C174.34 192.47 178.23 192.65 182.13 192.86C186.03 193.06 189.93 193.31 193.83 193.57C197.73 193.83 201.63 194.13 205.52 194.41C209.42 194.7 213.32 195.01 217.22 195.31C221.12 195.6 225.02 195.9 228.92 196.16C232.82 196.43 236.71 196.69 240.61 196.91C244.51 197.13 248.41 197.33 252.31 197.48C256.21 197.63 260.11 197.75 264 197.82C267.9 197.89 273.75 197.88 275.7 197.89L275.7 274.8L-5 274.8Z" fill="#5D71A5"/>
<path d="M-5 218.66C-3.05 218.73 2.8 218.98 6.7 219.1C10.59 219.22 14.49 219.33 18.39 219.39C22.29 219.46 26.19 219.5 30.09 219.5C33.99 219.5 37.88 219.47 41.78 219.42C45.68 219.36 49.58 219.26 53.48 219.15C57.38 219.03 61.28 218.88 65.17 218.72C69.07 218.56 72.97 218.37 76.87 218.17C80.77 217.98 84.67 217.76 88.57 217.56C92.47 217.35 96.36 217.13 100.26 216.92C104.16 216.72 108.06 216.51 111.96 216.33C115.86 216.15 119.76 215.98 123.65 215.84C127.55 215.7 131.45 215.58 135.35 215.49C139.25 215.41 143.15 215.34 147.05 215.32C150.94 215.29 154.84 215.3 158.74 215.33C162.64 215.37 166.54 215.44 170.44 215.54C174.34 215.63 178.23 215.76 182.13 215.91C186.03 216.06 189.93 216.23 193.83 216.42C197.73 216.6 201.63 216.81 205.52 217.02C209.42 217.22 213.32 217.45 217.22 217.65C221.12 217.86 225.02 218.07 228.92 218.26C232.82 218.45 236.71 218.64 240.61 218.8C244.51 218.95 248.41 219.09 252.31 219.2C256.21 219.31 260.11 219.39 264 219.44C267.9 219.49 273.75 219.49 275.7 219.5L275.7 274.8L-5 274.8Z" fill="#25528A"/>
<g stroke="#000" stroke-opacity="0.55" stroke-width="1.55" fill="none" stroke-linejoin="round">
<path d="M-6 56.2C-5 56.2 -2 55.7 0 56.2C2 56.7 3.55 58.52 6 59.2C8.45 59.88 10.72 60.8 14.7 60.3C18.68 59.8 25.42 58.05 29.9 56.2C34.38 54.35 37.7 52.03 41.6 49.2C45.5 46.37 49.4 42.42 53.3 39.2C57.2 35.98 61.4 32.92 65 29.9C68.6 26.88 71.73 24.42 74.9 21.1C78.07 17.78 81.15 13.52 84 10C86.85 6.48 90 2.5 92 0C94 -2.5 95.33 -4.17 96 -5.01"/>
<path d="M-6 32C-5 32 -2 31.62 0 32C2 32.38 3.35 33.77 6 34.3C8.65 34.83 11.92 35.35 15.9 35.2C19.88 35.05 25.62 34.58 29.9 33.4C34.18 32.22 37.7 30.23 41.6 28.1C45.5 25.97 49.4 23.42 53.3 20.6C57.2 17.78 61.4 14.05 65 11.2C68.6 8.35 72.32 5.37 74.9 3.5C77.48 1.63 79.1 0.88 80.5 0C81.9 -0.88 82.83 -1.47 83.3 -1.76"/>
<path d="M-6 19.4C-5 19.4 -2 19 0 19.4C2 19.8 3.35 21.22 6 21.8C8.65 22.38 11.92 23.02 15.9 22.9C19.88 22.78 25.62 22.17 29.9 21.1C34.18 20.03 37.7 18.35 41.6 16.5C45.5 14.65 49.4 12.15 53.3 10C57.2 7.85 61.88 5.27 65 3.6C68.12 1.93 70.25 0.9 72 0C73.75 -0.9 74.92 -1.51 75.5 -1.81"/>
<path d="M-6 10.6C-5 10.6 -2 10.27 0 10.6C2 10.93 3.35 12.12 6 12.6C8.65 13.08 11.92 13.58 15.9 13.5C19.88 13.42 25.62 12.97 29.9 12.1C34.18 11.23 37.7 9.82 41.6 8.3C45.5 6.78 50 4.38 53.3 3C56.6 1.62 59.38 0.75 61.4 0C63.42 -0.75 64.78 -1.26 65.45 -1.51"/>
<path d="M-6 3.6C-5 3.6 -2 3.33 0 3.6C2 3.87 3.55 4.81 6 5.2C8.45 5.59 10.72 6.12 14.7 5.95C18.68 5.78 24.55 5.19 29.9 4.2C35.25 3.21 42.57 1.05 46.8 0C51.02 -1.05 53.84 -1.76 55.25 -2.11"/>
<path d="M179.15 -3.76C179.94 -3.13 181.53 -1.88 183.9 0C186.28 1.88 190.05 4.32 193.4 7.5C196.75 10.68 200.47 15.4 204 19.1C207.53 22.8 211.07 26.33 214.6 29.7C218.13 33.07 221.68 36.3 225.2 39.3C228.72 42.3 232.18 45.07 235.7 47.7C239.22 50.33 242.77 53.23 246.3 55.1C249.83 56.97 254.07 58.18 256.9 58.9C259.73 59.62 261.12 59.78 263.3 59.4C265.48 59.02 267.6 57.6 270 56.6C272.4 55.6 276.42 53.92 277.7 53.38"/>
<path d="M191.25 -3.21C191.96 -2.67 193.38 -1.6 195.5 0C197.62 1.6 200.82 3.92 204 6.4C207.18 8.88 211.07 12.25 214.6 14.9C218.13 17.55 221.68 20.08 225.2 22.3C228.72 24.52 232.18 26.5 235.7 28.2C239.22 29.9 242.77 31.43 246.3 32.5C249.83 33.57 254.07 34.25 256.9 34.6C259.73 34.95 261.12 34.82 263.3 34.6C265.48 34.38 267.6 33.77 270 33.3C272.4 32.83 276.42 32.05 277.7 31.81"/>
<path d="M200.2 -2.71C201 -2.26 202.6 -1.35 205 0C207.4 1.35 211.23 3.45 214.6 5.4C217.97 7.35 221.68 9.83 225.2 11.7C228.72 13.57 232.18 15.18 235.7 16.6C239.22 18.02 242.77 19.32 246.3 20.2C249.83 21.08 252.95 21.72 256.9 21.9C260.85 22.08 266.53 21.46 270 21.3C273.47 21.14 276.42 21.01 277.7 20.95"/>
<path d="M212.45 -2.16C213.16 -1.8 214.57 -1.08 216.7 0C218.82 1.08 222.03 2.87 225.2 4.3C228.37 5.73 232.18 7.37 235.7 8.6C239.22 9.83 242.77 10.9 246.3 11.7C249.83 12.5 252.95 13.15 256.9 13.4C260.85 13.65 266.53 13.25 270 13.2C273.47 13.15 276.42 13.1 277.7 13.08"/>
<path d="M224.1 -1.41C224.98 -1.17 226.75 -0.7 229.4 0C232.05 0.7 236.12 1.9 240 2.8C243.88 3.7 249.18 4.9 252.7 5.4C256.22 5.9 258.22 5.87 261.1 5.8C263.98 5.73 267.23 5.25 270 5C272.77 4.75 276.42 4.42 277.7 4.31"/>
<path d="M138.2 42.2C136.95 42.23 136.28 42.32 134.5 40.7C132.72 39.08 129.83 35.77 127.5 32.5C125.17 29.23 122.83 24.62 120.5 21.1C118.17 17.58 115.4 13.6 113.5 11.4C111.6 9.2 110.57 8.62 109.1 7.9C107.63 7.18 106.9 6.37 104.7 7.1C102.5 7.83 98.82 9.38 95.9 12.3C92.98 15.22 89.82 20.22 87.2 24.6C84.58 28.98 81.82 34.52 80.2 38.6C78.58 42.68 77.65 45.6 77.5 49.1C77.35 52.6 77.98 56.38 79.3 59.6C80.62 62.82 82.92 66.2 85.4 68.4C87.88 70.6 90.98 71.87 94.2 72.8C97.42 73.73 101.2 74.3 104.7 74C108.2 73.7 111.7 72.67 115.2 71C118.7 69.33 122.48 66.48 125.7 64C128.92 61.52 132.42 57.52 134.5 56.1C136.58 54.68 136.85 55.32 138.2 55.5C139.55 55.68 140.45 56.03 142.6 57.2C144.75 58.37 147.57 60.55 151.1 62.5C154.63 64.45 159.92 67.55 163.8 68.9C167.68 70.25 170.88 70.95 174.4 70.6C177.92 70.25 181.92 68.85 184.9 66.8C187.88 64.75 190.7 61.48 192.3 58.3C193.9 55.12 194.5 51.23 194.5 47.7C194.5 44.17 193.72 41.33 192.3 37.1C190.88 32.87 188.28 26.53 186 22.3C183.72 18.07 181.07 14.1 178.6 11.7C176.13 9.3 173.67 8.07 171.2 7.9C168.73 7.73 166.45 8.65 163.8 10.7C161.15 12.75 158.13 16.5 155.3 20.2C152.47 23.9 149.02 29.52 146.8 32.9C144.58 36.28 143.43 38.95 142 40.5C140.57 42.05 139.45 42.17 138.2 42.2Z"/>
<path d="M115.2 -3.56C115.78 -2.97 116.95 -1.78 118.7 0C120.45 1.78 123.37 5.05 125.7 7.1C128.03 9.15 130.62 11.2 132.7 12.3C134.78 13.4 136.32 13.7 138.2 13.7C140.08 13.7 141.87 13.4 144 12.3C146.13 11.2 148.73 9.15 151 7.1C153.27 5.05 155.95 1.78 157.6 0C159.25 -1.78 160.35 -2.97 160.9 -3.56"/>
<path d="M131.3 -0.51C131.53 -0.42 132 -0.25 132.7 0C133.4 0.25 134.58 0.77 135.5 1C136.42 1.23 137.28 1.4 138.2 1.4C139.12 1.4 140.05 1.23 141 1C141.95 0.77 143.18 0.25 143.9 0C144.62 -0.25 145.11 -0.42 145.35 -0.51"/>
<path d="M-6 78.5C-5 78.5 -2.6 78.62 0 78.5C2.6 78.38 5.23 77.38 9.6 77.8C13.97 78.22 19.92 79.42 26.2 81C32.48 82.58 40.28 85.38 47.3 87.3C54.32 89.22 61.3 91.17 68.3 92.5C75.3 93.83 84.05 94.77 89.3 95.3C94.55 95.83 94.55 96.17 99.8 95.7C105.05 95.23 115.43 93.33 120.8 92.5C126.17 91.67 129.1 91.07 132 90.7C134.9 90.33 136.2 90.27 138.2 90.3C140.2 90.33 141.85 90.52 144 90.9C146.15 91.28 148.15 92.1 151.1 92.6C154.05 93.1 158.18 93.68 161.7 93.9C165.22 94.12 168.68 94.12 172.2 93.9C175.72 93.68 179.27 93.23 182.8 92.6C186.33 91.97 188.1 91.4 193.4 90.1C198.7 88.8 207.55 86.57 214.6 84.8C221.65 83.03 230.07 80.57 235.7 79.5C241.33 78.43 244.87 78.48 248.4 78.4C251.93 78.32 253.3 78.4 256.9 79C260.5 79.6 266.7 81.5 270 82C273.3 82.5 275.58 82 276.7 82"/>
<path d="M-6 107.9C-5 107.9 -3.62 107.65 0 107.9C3.62 108.15 9.58 108.92 15.7 109.4C21.82 109.88 29.68 110.38 36.7 110.8C43.72 111.22 50.78 111.62 57.8 111.9C64.82 112.18 71.8 112.47 78.8 112.5C85.8 112.53 93.77 112.35 99.8 112.1C105.83 111.85 110.47 111.43 115 111C119.53 110.57 123.5 109.88 127 109.5C130.5 109.12 132.83 108.73 136 108.7C139.17 108.67 142.33 108.98 146 109.3C149.67 109.62 153.63 110.32 158 110.6C162.37 110.88 167.87 111.12 172.2 111C176.53 110.88 180.2 110.35 184 109.9C187.8 109.45 189.9 108.78 195 108.3C200.1 107.82 207.82 107.03 214.6 107C221.38 106.97 228.65 107.57 235.7 108.1C242.75 108.63 251.18 109.68 256.9 110.2C262.62 110.72 266.7 111.03 270 111.2C273.3 111.37 275.58 111.2 276.7 111.2"/>
<path d="M-6 126.3C-5 126.3 -3.65 126.05 0 126.3C3.65 126.55 9.23 127.35 15.9 127.8C22.57 128.25 32.98 128.78 40 129C47.02 129.22 51.5 129.18 58 129.1C64.5 129.02 72 128.82 79 128.5C86 128.18 93 127.68 100 127.2C107 126.72 114.67 126.05 121 125.6C127.33 125.15 132.98 124.7 138 124.5C143.02 124.3 145.4 124.45 151.1 124.4C156.8 124.35 165.15 124.2 172.2 124.2C179.25 124.2 186.33 124.17 193.4 124.4C200.47 124.63 207.55 125.15 214.6 125.6C221.65 126.05 228.65 126.5 235.7 127.1C242.75 127.7 251.18 128.67 256.9 129.2C262.62 129.73 266.7 130.12 270 130.3C273.3 130.48 275.58 130.3 276.7 130.3"/>
<path d="M-6 143.2C-5 143.2 -3.65 142.95 0 143.2C3.65 143.45 9.75 144.28 15.9 144.7C22.05 145.12 29.88 145.63 36.9 145.7C43.92 145.77 50.98 145.42 58 145.1C65.02 144.78 72 144.28 79 143.8C86 143.32 93 142.75 100 142.2C107 141.65 115.18 140.9 121 140.5C126.82 140.1 129.08 140.05 134.9 139.8C140.72 139.55 150.65 139.13 155.9 139C161.15 138.87 162.9 138.93 166.4 139C169.9 139.07 171.63 139.08 176.9 139.4C182.17 139.72 190.98 140.37 198 140.9C205.02 141.43 212 142.03 219 142.6C226 143.17 233 143.78 240 144.3C247 144.82 255.82 145.35 261 145.7C266.18 146.05 268.48 146.28 271.1 146.4C273.72 146.52 275.77 146.4 276.7 146.4"/>
<path d="M-5 160.96C-3.05 161.1 2.8 161.54 6.7 161.76C10.59 161.99 14.49 162.18 18.39 162.32C22.29 162.46 26.19 162.55 30.09 162.58C33.99 162.62 37.88 162.6 41.78 162.53C45.68 162.46 49.58 162.33 53.48 162.16C57.38 161.99 61.28 161.77 65.17 161.51C69.07 161.26 72.97 160.96 76.87 160.65C80.77 160.33 84.67 159.98 88.57 159.64C92.47 159.29 96.36 158.92 100.26 158.58C104.16 158.23 108.06 157.88 111.96 157.57C115.86 157.26 119.76 156.95 123.65 156.7C127.55 156.45 131.45 156.22 135.35 156.05C139.25 155.88 143.15 155.75 147.05 155.68C150.94 155.6 154.84 155.58 158.74 155.62C162.64 155.65 166.54 155.74 170.44 155.87C174.34 156.01 178.23 156.2 182.13 156.43C186.03 156.65 189.93 156.93 193.83 157.22C197.73 157.52 201.63 157.86 205.52 158.19C209.42 158.53 213.32 158.9 217.22 159.24C221.12 159.59 225.02 159.95 228.92 160.28C232.82 160.61 236.71 160.93 240.61 161.21C244.51 161.49 248.41 161.75 252.31 161.95C256.21 162.15 260.11 162.32 264 162.43C267.9 162.53 273.75 162.57 275.7 162.6"/>
<path d="M-5 177.98C-3.05 178.1 2.8 178.51 6.7 178.71C10.59 178.92 14.49 179.09 18.39 179.2C22.29 179.32 26.19 179.38 30.09 179.4C33.99 179.41 37.88 179.37 41.78 179.28C45.68 179.19 49.58 179.05 53.48 178.87C57.38 178.69 61.28 178.45 65.17 178.19C69.07 177.93 72.97 177.63 76.87 177.32C80.77 177 84.67 176.66 88.57 176.32C92.47 175.98 96.36 175.62 100.26 175.29C104.16 174.96 108.06 174.63 111.96 174.33C115.86 174.04 119.76 173.76 123.65 173.52C127.55 173.29 131.45 173.09 135.35 172.94C139.25 172.79 143.15 172.69 147.05 172.64C150.94 172.59 154.84 172.59 158.74 172.64C162.64 172.69 166.54 172.8 170.44 172.95C174.34 173.1 178.23 173.31 182.13 173.54C186.03 173.77 189.93 174.06 193.83 174.35C197.73 174.65 201.63 174.98 205.52 175.32C209.42 175.65 213.32 176.01 217.22 176.34C221.12 176.68 225.02 177.03 228.92 177.34C232.82 177.65 236.71 177.95 240.61 178.21C244.51 178.47 248.41 178.7 252.31 178.88C256.21 179.06 260.11 179.2 264 179.29C267.9 179.37 273.75 179.38 275.7 179.4"/>
<path d="M-5 196.71C-3.05 196.82 2.8 197.17 6.7 197.34C10.59 197.51 14.49 197.65 18.39 197.75C22.29 197.84 26.19 197.89 30.09 197.9C33.99 197.91 37.88 197.86 41.78 197.78C45.68 197.7 49.58 197.57 53.48 197.41C57.38 197.24 61.28 197.03 65.17 196.81C69.07 196.58 72.97 196.31 76.87 196.04C80.77 195.76 84.67 195.46 88.57 195.17C92.47 194.88 96.36 194.57 100.26 194.28C104.16 193.99 108.06 193.7 111.96 193.45C115.86 193.2 119.76 192.96 123.65 192.76C127.55 192.56 131.45 192.39 135.35 192.27C139.25 192.15 143.15 192.06 147.05 192.02C150.94 191.99 154.84 191.99 158.74 192.05C162.64 192.1 166.54 192.2 170.44 192.33C174.34 192.47 178.23 192.65 182.13 192.86C186.03 193.06 189.93 193.31 193.83 193.57C197.73 193.83 201.63 194.13 205.52 194.41C209.42 194.7 213.32 195.01 217.22 195.31C221.12 195.6 225.02 195.9 228.92 196.16C232.82 196.43 236.71 196.69 240.61 196.91C244.51 197.13 248.41 197.33 252.31 197.48C256.21 197.63 260.11 197.75 264 197.82C267.9 197.89 273.75 197.88 275.7 197.89"/>
<path d="M-5 218.66C-3.05 218.73 2.8 218.98 6.7 219.1C10.59 219.22 14.49 219.33 18.39 219.39C22.29 219.46 26.19 219.5 30.09 219.5C33.99 219.5 37.88 219.47 41.78 219.42C45.68 219.36 49.58 219.26 53.48 219.15C57.38 219.03 61.28 218.88 65.17 218.72C69.07 218.56 72.97 218.37 76.87 218.17C80.77 217.98 84.67 217.76 88.57 217.56C92.47 217.35 96.36 217.13 100.26 216.92C104.16 216.72 108.06 216.51 111.96 216.33C115.86 216.15 119.76 215.98 123.65 215.84C127.55 215.7 131.45 215.58 135.35 215.49C139.25 215.41 143.15 215.34 147.05 215.32C150.94 215.29 154.84 215.3 158.74 215.33C162.64 215.37 166.54 215.44 170.44 215.54C174.34 215.63 178.23 215.76 182.13 215.91C186.03 216.06 189.93 216.23 193.83 216.42C197.73 216.6 201.63 216.81 205.52 217.02C209.42 217.22 213.32 217.45 217.22 217.65C221.12 217.86 225.02 218.07 228.92 218.26C232.82 218.45 236.71 218.64 240.61 218.8C244.51 218.95 248.41 219.09 252.31 219.2C256.21 219.31 260.11 219.39 264 219.44C267.9 219.49 273.75 219.49 275.7 219.5"/>
</g>
</g>
<rect x="405.2" y="-0.1" width="280.5" height="280.4" fill="none" stroke="#9a9a9a" stroke-width="0.9"/>
<path d="M410.45 280.3v-3.4 M410.45 -0.1v3.4 M418.16 280.3v-2 M418.16 -0.1v2 M425.87 280.3v-2 M425.87 -0.1v2 M433.59 280.3v-2 M433.59 -0.1v2 M441.3 280.3v-2 M441.3 -0.1v2 M449.01 280.3v-3.4 M449.01 -0.1v3.4 M456.72 280.3v-2 M456.72 -0.1v2 M464.43 280.3v-2 M464.43 -0.1v2 M472.15 280.3v-2 M472.15 -0.1v2 M479.86 280.3v-2 M479.86 -0.1v2 M487.57 280.3v-3.4 M487.57 -0.1v3.4 M495.28 280.3v-2 M495.28 -0.1v2 M502.99 280.3v-2 M502.99 -0.1v2 M510.71 280.3v-2 M510.71 -0.1v2 M518.42 280.3v-2 M518.42 -0.1v2 M526.13 280.3v-3.4 M526.13 -0.1v3.4 M533.84 280.3v-2 M533.84 -0.1v2 M541.55 280.3v-2 M541.55 -0.1v2 M549.27 280.3v-2 M549.27 -0.1v2 M556.98 280.3v-2 M556.98 -0.1v2 M564.69 280.3v-3.4 M564.69 -0.1v3.4 M572.4 280.3v-2 M572.4 -0.1v2 M580.11 280.3v-2 M580.11 -0.1v2 M587.83 280.3v-2 M587.83 -0.1v2 M595.54 280.3v-2 M595.54 -0.1v2 M603.25 280.3v-3.4 M603.25 -0.1v3.4 M610.96 280.3v-2 M610.96 -0.1v2 M618.67 280.3v-2 M618.67 -0.1v2 M626.39 280.3v-2 M626.39 -0.1v2 M634.1 280.3v-2 M634.1 -0.1v2 M641.81 280.3v-3.4 M641.81 -0.1v3.4 M649.52 280.3v-2 M649.52 -0.1v2 M657.23 280.3v-2 M657.23 -0.1v2 M664.95 280.3v-2 M664.95 -0.1v2 M672.66 280.3v-2 M672.66 -0.1v2 M680.37 280.3v-3.4 M680.37 -0.1v3.4 M405.2 275h3.8 M685.7 275h-3.8 M405.2 260.65h2.4 M685.7 260.65h-2.4 M405.2 246.3h2.4 M685.7 246.3h-2.4 M405.2 231.95h2.4 M685.7 231.95h-2.4 M405.2 217.6h3.8 M685.7 217.6h-3.8 M405.2 203.25h2.4 M685.7 203.25h-2.4 M405.2 188.9h2.4 M685.7 188.9h-2.4 M405.2 174.55h2.4 M685.7 174.55h-2.4 M405.2 160.2h3.8 M685.7 160.2h-3.8 M405.2 145.85h2.4 M685.7 145.85h-2.4 M405.2 131.5h2.4 M685.7 131.5h-2.4 M405.2 117.15h2.4 M685.7 117.15h-2.4 M405.2 102.8h3.8 M685.7 102.8h-3.8 M405.2 88.45h2.4 M685.7 88.45h-2.4 M405.2 74.1h2.4 M685.7 74.1h-2.4 M405.2 59.75h2.4 M685.7 59.75h-2.4 M405.2 45.4h3.8 M685.7 45.4h-3.8 M405.2 31.05h2.4 M685.7 31.05h-2.4 M405.2 16.7h2.4 M685.7 16.7h-2.4 M405.2 2.35h2.4 M685.7 2.35h-2.4 " stroke="#6e6e6e" stroke-width="0.7" fill="none"/>
<g font-family="Liberation Sans, Arial, Helvetica, sans-serif" font-weight="bold" font-size="18.2px" fill="#000">
<text x="401.6" y="281.7" text-anchor="end">0.0</text>
<text x="401.6" y="224.3" text-anchor="end">0.2</text>
<text x="401.6" y="166.9" text-anchor="end">0.4</text>
<text x="401.6" y="109.5" text-anchor="end">0.6</text>
<text x="401.6" y="52.1" text-anchor="end">0.8</text>
<text x="398.85" y="300.9"><tspan font-size="22.4px" dy="1.2">-</tspan><tspan dy="-1.2" dx="5.6">2</tspan></text>
<text x="437.41" y="300.9"><tspan font-size="22.4px" dy="1.2">-</tspan><tspan dy="-1.2" dx="5.6">1</tspan></text>
<text x="487.97" y="300.9" text-anchor="middle">0</text>
<text x="526.53" y="300.9" text-anchor="middle">1</text>
<text x="565.09" y="300.9" text-anchor="middle">2</text>
<text x="603.65" y="300.9" text-anchor="middle">3</text>
<text x="642.21" y="300.9" text-anchor="middle">4</text>
<text x="680.77" y="300.9" text-anchor="middle">5</text>
<text x="545.1" y="329.7" text-anchor="middle">z</text>
<text transform="translate(365.1 140.4) rotate(-90)" text-anchor="middle">r</text>
</g>
<text x="545.6" y="364.9" text-anchor="middle" font-family="Liberation Serif, serif" font-size="21.5px" fill="#111"><tspan font-size="24.5px">(</tspan>b<tspan font-size="24.5px">)</tspan></text>
<g transform="translate(61.1 411.9)" clip-path="url(#clipA)">
<rect x="-1" y="-1" width="272.7" height="271.8" fill="#F6C87D"/>
<path d="M-6 35.6C-5 35.6 -2 35.27 0 35.6C2 35.93 3.53 37.15 6 37.6C8.47 38.05 10.82 38.43 14.8 38.3C18.78 38.17 25.88 37.43 29.9 36.8C33.92 36.17 35.93 35.55 38.9 34.5C41.87 33.45 44.78 32.12 47.7 30.5C50.62 28.88 53.48 26.92 56.4 24.8C59.32 22.68 62.28 20.28 65.2 17.8C68.12 15.32 71.57 12.17 73.9 9.9C76.23 7.63 77.73 5.85 79.2 4.2C80.67 2.55 81.83 1.05 82.7 0C83.58 -1.05 84.16 -1.76 84.45 -2.11L84.45 -8L-8 -8L-8 35.6Z" fill="#F0B865"/>
<path d="M-6 22.5C-5 22.5 -2 22.18 0 22.5C2 22.82 3.15 23.97 6 24.4C8.85 24.83 13.12 25.13 17.1 25.1C21.08 25.07 26.27 24.68 29.9 24.2C33.53 23.72 35.93 23.05 38.9 22.2C41.87 21.35 44.78 20.42 47.7 19.1C50.62 17.78 53.48 16.12 56.4 14.3C59.32 12.48 62.72 10.02 65.2 8.2C67.68 6.38 69.63 4.77 71.3 3.4C72.97 2.03 74.22 0.85 75.2 0C76.18 -0.85 76.83 -1.43 77.15 -1.71L77.15 -8L-8 -8L-8 22.5Z" fill="#E9A853"/>
<path d="M-6 14.3C-5 14.3 -2 14.05 0 14.3C2 14.55 3.15 15.45 6 15.8C8.85 16.15 13.12 16.5 17.1 16.4C21.08 16.3 26.27 15.77 29.9 15.2C33.53 14.63 35.93 13.8 38.9 13C41.87 12.2 44.78 11.5 47.7 10.4C50.62 9.3 53.78 7.72 56.4 6.4C59.02 5.08 61.57 3.57 63.4 2.5C65.23 1.43 66.4 0.63 67.4 0C68.4 -0.63 69.07 -1.05 69.4 -1.26L69.4 -8L-8 -8L-8 14.3Z" fill="#D49B56"/>
<path d="M-6 7.1C-5 7.1 -2 6.85 0 7.1C2 7.35 3.15 8.27 6 8.6C8.85 8.93 13.12 9.27 17.1 9.1C21.08 8.93 26.27 8.27 29.9 7.6C33.53 6.93 35.93 5.83 38.9 5.1C41.87 4.37 44.78 4.05 47.7 3.2C50.62 2.35 54.23 0.8 56.4 0C58.57 -0.8 60.02 -1.34 60.75 -1.61L60.75 -8L-8 -8L-8 7.1Z" fill="#AD8B6D"/>
<path d="M-6 0.5C-5 0.5 -2.33 0.37 0 0.5C2.33 0.63 5.17 1.08 8 1.3C10.83 1.52 14.17 1.8 17 1.8C19.83 1.8 22.5 1.6 25 1.3C27.5 1 30.25 0.33 32 0C33.75 -0.33 34.92 -0.55 35.5 -0.66L35.5 -8L-8 -8L-8 0.5Z" fill="#867D87"/>
<path d="M190.25 -4.01C190.72 -3.34 191.67 -2 193.1 0C194.53 2 196.68 5.28 198.8 8C200.92 10.72 203.32 13.77 205.8 16.3C208.28 18.83 210.93 21.1 213.7 23.2C216.47 25.3 219.48 27.3 222.4 28.9C225.32 30.5 228.78 31.85 231.2 32.8C233.62 33.75 234.5 33.92 236.9 34.6C239.3 35.28 242.6 36.33 245.6 36.9C248.6 37.47 252.17 37.82 254.9 38C257.63 38.18 259.37 38.22 262 38C264.63 37.78 268.08 37.09 270.7 36.7C273.32 36.31 276.53 35.83 277.7 35.65L278.7 -8L190.25 -8Z" fill="#F0B865"/>
<path d="M198.15 -2.91C198.62 -2.42 199.57 -1.45 201 0C202.43 1.45 204.58 3.8 206.7 5.8C208.82 7.8 211.37 10.17 213.7 12C216.03 13.83 218.07 15.32 220.7 16.8C223.33 18.28 226.8 19.82 229.5 20.9C232.2 21.98 234.22 22.62 236.9 23.3C239.58 23.98 242.2 24.55 245.6 25C249 25.45 254.18 25.88 257.3 26C260.42 26.12 262.07 25.97 264.3 25.7C266.53 25.43 268.47 24.85 270.7 24.4C272.93 23.95 276.53 23.22 277.7 22.98L278.7 -8L198.15 -8Z" fill="#E9A853"/>
<path d="M206.9 -1.81C207.35 -1.51 208.25 -0.9 209.6 0C210.95 0.9 212.88 2.35 215 3.6C217.12 4.85 219.15 6.05 222.3 7.5C225.45 8.95 230.02 11 233.9 12.3C237.78 13.6 241.7 14.53 245.6 15.3C249.5 16.07 254.18 16.63 257.3 16.9C260.42 17.17 262.07 17.05 264.3 16.9C266.53 16.75 268.47 16.31 270.7 16C272.93 15.69 276.53 15.18 277.7 15.02L278.7 -8L206.9 -8Z" fill="#D49B56"/>
<path d="M215.6 -2.21C216.62 -1.84 218.65 -1.1 221.7 0C224.75 1.1 229.92 3.22 233.9 4.4C237.88 5.58 241.7 6.38 245.6 7.1C249.5 7.82 254.18 8.42 257.3 8.7C260.42 8.98 262.07 8.88 264.3 8.8C266.53 8.72 268.47 8.41 270.7 8.2C272.93 7.99 276.53 7.65 277.7 7.54L278.7 -8L215.6 -8Z" fill="#AD8B6D"/>
<path d="M235.6 -0.51C236.4 -0.42 238 -0.25 240.4 0C242.8 0.25 246.4 0.72 250 1C253.6 1.28 258.55 1.58 262 1.7C265.45 1.82 268.08 1.7 270.7 1.7C273.32 1.7 276.53 1.7 277.7 1.7L278.7 -8L235.6 -8Z" fill="#867D87"/>
<path d="M93.3 -3.21C93 -2.67 92.4 -1.6 91.5 0C90.6 1.6 89.37 3.93 87.9 6.4C86.43 8.87 85.03 11.37 82.7 14.8C80.37 18.23 76.82 23.28 73.9 27C70.98 30.72 68.12 33.95 65.2 37.1C62.28 40.25 59.32 43.2 56.4 45.9C53.48 48.6 50.17 51.4 47.7 53.3C45.23 55.2 44.57 55.58 41.6 57.3C38.63 59.02 32.92 62.1 29.9 63.6C26.88 65.1 24.92 65.57 23.5 66.3C22.08 67.03 21.57 67.22 21.4 68C21.23 68.78 21.67 69.78 22.5 71C23.33 72.22 22.23 73.18 26.4 75.3C30.57 77.42 40.48 81.08 47.5 83.7C54.52 86.32 62.2 89.07 68.5 91C74.8 92.93 80.4 94.42 85.3 95.3C90.2 96.18 93.7 96.65 97.9 96.3C102.1 95.95 106.65 94.95 110.5 93.2C114.35 91.45 118.17 88.67 121 85.8C123.83 82.93 125.95 79.3 127.5 76C129.05 72.7 130.02 69.27 130.3 66C130.58 62.73 130.05 59.75 129.2 56.4C128.35 53.05 126.92 50.47 125.2 45.9C123.48 41.33 121 34.27 118.9 29C116.8 23.73 114.58 19.13 112.6 14.3C110.62 9.47 108.4 3.58 107 0C105.6 -3.58 104.67 -5.97 104.2 -7.16L104.2 -8L93.3 -8Z" fill="#FBD690"/>
<path d="M181.45 -5.11C181.93 -4.26 182.88 -2.55 184.3 0C185.73 2.55 187.88 6.62 190 10.2C192.12 13.78 194.65 17.87 197 21.5C199.35 25.13 201.62 28.75 204.1 32C206.58 35.25 209.43 38.57 211.9 41C214.37 43.43 216.27 44.38 218.9 46.6C221.53 48.82 224.78 51.98 227.7 54.3C230.62 56.62 233.8 58.73 236.4 60.5C239 62.27 241.68 63.82 243.3 64.9C244.92 65.98 245.6 65.98 246.1 67C246.6 68.02 246.65 70.05 246.3 71C245.95 71.95 245.65 71.97 244 72.7C242.35 73.43 239.12 74.42 236.4 75.4C233.68 76.38 230.62 77.55 227.7 78.6C224.78 79.65 221.68 80.63 218.9 81.7C216.12 82.77 214.48 83.55 211 85C207.52 86.45 202.27 88.87 198 90.4C193.73 91.93 189.27 93.38 185.4 94.2C181.53 95.02 178.67 95.82 174.8 95.3C170.93 94.78 165.87 93.38 162.2 91.1C158.53 88.82 155.32 85.28 152.8 81.6C150.28 77.92 148.15 73.2 147.1 69C146.05 64.8 145.82 61.32 146.5 56.4C147.18 51.48 148.9 45.57 151.2 39.5C153.5 33.43 157.95 25.25 160.3 20C162.65 14.75 163.93 11.33 165.3 8C166.67 4.67 167.7 2 168.5 0C169.3 -2 169.83 -3.34 170.1 -4.01L170.1 -8L181.45 -8Z" fill="#FBD690"/>
<path d="M285 58C282.9 55.07 275.57 62.02 272.4 63.4C269.23 64.78 267.45 65.45 266 66.3C264.55 67.15 263.87 67.63 263.7 68.5C263.53 69.37 264.13 70.37 265 71.5C265.87 72.63 265.57 73.72 268.9 75.3C272.23 76.88 282.32 83.88 285 81C287.68 78.12 287.1 60.93 285 58Z" fill="#FBD690"/>
<path d="M98.5 10.8C96.65 11.12 94.47 13.27 92.6 15.6C90.73 17.93 88.95 21.28 87.3 24.8C85.65 28.32 83.95 32.75 82.7 36.7C81.45 40.65 80.23 45 79.8 48.5C79.37 52 79.4 54.63 80.1 57.7C80.8 60.77 82.13 64.38 84 66.9C85.87 69.42 88.88 71.48 91.3 72.8C93.72 74.12 96.1 74.8 98.5 74.8C100.9 74.8 103.62 74.12 105.7 72.8C107.78 71.48 109.62 69.63 111 66.9C112.38 64.17 113.45 59.9 114 56.4C114.55 52.9 114.58 49.85 114.3 45.9C114.02 41.95 113.3 36.87 112.3 32.7C111.3 28.53 109.73 24.07 108.3 20.9C106.87 17.73 105.33 15.38 103.7 13.7C102.07 12.02 100.35 10.48 98.5 10.8Z" fill="#FFF0C0"/>
<path d="M176.7 10.8C175.17 11.5 172.47 13.05 170.7 15.6C168.93 18.15 167.4 22.15 166.1 26.1C164.8 30.05 163.6 35.35 162.9 39.3C162.2 43.25 161.8 46.52 161.9 49.8C162 53.08 162.57 56.15 163.5 59C164.43 61.85 165.97 64.78 167.5 66.9C169.03 69.02 171.07 70.72 172.7 71.7C174.33 72.68 175.43 72.95 177.3 72.8C179.17 72.65 181.7 72.23 183.9 70.8C186.1 69.37 188.75 66.83 190.5 64.2C192.25 61.57 193.6 58.05 194.4 55C195.2 51.95 195.52 49.4 195.3 45.9C195.08 42.4 194.23 37.95 193.1 34C191.97 30.05 190.15 25.48 188.5 22.2C186.85 18.92 184.63 16.1 183.2 14.3C181.77 12.5 180.98 11.98 179.9 11.4C178.82 10.82 178.23 10.1 176.7 10.8Z" fill="#FFF0C0"/>
<path d="M112 -3C112.15 -2.5 112.45 -1.49 112.9 0C113.35 1.49 114.1 4.07 114.7 5.97C115.3 7.88 115.9 9.69 116.5 11.42C117.1 13.15 117.7 14.79 118.3 16.35C118.9 17.9 119.5 19.37 120.1 20.76C120.7 22.15 121.3 23.46 121.9 24.68C122.5 25.91 123.1 27.05 123.7 28.11C124.3 29.17 124.9 30.15 125.5 31.06C126.1 31.97 126.7 32.79 127.3 33.54C127.9 34.3 128.5 34.97 129.1 35.58C129.7 36.18 130.3 36.71 130.9 37.18C131.5 37.64 132.1 38.03 132.7 38.36C133.3 38.69 133.9 38.95 134.5 39.15C135.1 39.35 135.7 39.49 136.3 39.58C136.9 39.67 137.5 39.7 138.1 39.7C138.7 39.7 139.3 39.67 139.9 39.58C140.5 39.49 141.1 39.35 141.7 39.15C142.3 38.95 142.9 38.69 143.5 38.36C144.1 38.03 144.7 37.64 145.3 37.18C145.9 36.71 146.5 36.18 147.1 35.58C147.7 34.97 148.3 34.3 148.9 33.54C149.5 32.79 150.1 31.97 150.7 31.06C151.3 30.15 151.9 29.17 152.5 28.11C153.1 27.05 153.7 25.91 154.3 24.68C154.9 23.46 155.5 22.15 156.1 20.76C156.7 19.37 157.3 17.9 157.9 16.35C158.5 14.79 159.1 13.15 159.7 11.42C160.3 9.69 160.9 7.88 161.5 5.97C162.1 4.07 162.85 1.49 163.3 0C163.75 -1.49 164.05 -2.5 164.2 -3L164.2 -8L112 -8Z" fill="#F0B865"/>
<path d="M116.56 -2.04C116.68 -1.7 116.93 -1.02 117.3 0C117.67 1.02 118.29 2.77 118.79 4.06C119.28 5.36 119.78 6.59 120.27 7.77C120.77 8.94 121.26 10.06 121.76 11.12C122.25 12.18 122.75 13.18 123.24 14.12C123.74 15.07 124.23 15.95 124.73 16.79C125.22 17.62 125.72 18.39 126.21 19.12C126.71 19.84 127.2 20.51 127.7 21.12C128.2 21.74 128.69 22.3 129.19 22.81C129.68 23.33 130.18 23.79 130.67 24.2C131.17 24.61 131.66 24.97 132.16 25.28C132.65 25.6 133.15 25.87 133.64 26.09C134.14 26.31 134.63 26.49 135.13 26.63C135.62 26.76 136.12 26.86 136.61 26.92C137.11 26.98 137.6 27 138.1 27C138.6 27 139.09 26.98 139.59 26.92C140.08 26.86 140.58 26.76 141.07 26.63C141.57 26.49 142.06 26.31 142.56 26.09C143.05 25.87 143.55 25.6 144.04 25.28C144.54 24.97 145.03 24.61 145.53 24.2C146.02 23.79 146.52 23.33 147.01 22.81C147.51 22.3 148 21.74 148.5 21.12C149 20.51 149.49 19.84 149.99 19.12C150.48 18.39 150.98 17.62 151.47 16.79C151.97 15.95 152.46 15.07 152.96 14.12C153.45 13.18 153.95 12.18 154.44 11.12C154.94 10.06 155.43 8.94 155.93 7.77C156.42 6.59 156.92 5.36 157.41 4.06C157.91 2.77 158.53 1.02 158.9 0C159.27 -1.02 159.52 -1.7 159.64 -2.04L159.64 -8L116.56 -8Z" fill="#E9A853"/>
<path d="M120.6 -1.32C120.7 -1.1 120.9 -0.66 121.2 0C121.5 0.66 122 1.78 122.41 2.62C122.81 3.45 123.21 4.25 123.61 5C124.02 5.76 124.42 6.48 124.82 7.16C125.22 7.85 125.63 8.49 126.03 9.1C126.43 9.71 126.83 10.28 127.24 10.82C127.64 11.35 128.04 11.85 128.44 12.32C128.85 12.79 129.25 13.22 129.65 13.61C130.05 14.01 130.45 14.37 130.86 14.7C131.26 15.03 131.66 15.33 132.06 15.59C132.47 15.86 132.87 16.09 133.27 16.29C133.67 16.5 134.08 16.67 134.48 16.81C134.88 16.96 135.28 17.07 135.69 17.16C136.09 17.25 136.49 17.31 136.89 17.35C137.3 17.39 137.7 17.4 138.1 17.4C138.5 17.4 138.9 17.39 139.31 17.35C139.71 17.31 140.11 17.25 140.51 17.16C140.92 17.07 141.32 16.96 141.72 16.81C142.12 16.67 142.53 16.5 142.93 16.29C143.33 16.09 143.73 15.86 144.14 15.59C144.54 15.33 144.94 15.03 145.34 14.7C145.75 14.37 146.15 14.01 146.55 13.61C146.95 13.22 147.35 12.79 147.76 12.32C148.16 11.85 148.56 11.35 148.96 10.82C149.37 10.28 149.77 9.71 150.17 9.1C150.57 8.49 150.98 7.85 151.38 7.16C151.78 6.48 152.18 5.76 152.59 5C152.99 4.25 153.39 3.45 153.79 2.62C154.2 1.78 154.7 0.66 155 0C155.3 -0.66 155.5 -1.1 155.6 -1.32L155.6 -8L120.6 -8Z" fill="#D49B56"/>
<path d="M125.15 -0.75C125.23 -0.63 125.38 -0.37 125.6 0C125.82 0.37 126.2 1.01 126.49 1.49C126.79 1.96 127.09 2.42 127.39 2.85C127.68 3.28 127.98 3.69 128.28 4.08C128.58 4.46 128.87 4.83 129.17 5.18C129.47 5.52 129.77 5.85 130.06 6.15C130.36 6.46 130.66 6.74 130.96 7.01C131.25 7.27 131.55 7.52 131.85 7.75C132.15 7.97 132.45 8.18 132.74 8.37C133.04 8.55 133.34 8.72 133.64 8.87C133.93 9.02 134.23 9.16 134.53 9.27C134.83 9.39 135.12 9.48 135.42 9.57C135.72 9.65 136.02 9.71 136.31 9.76C136.61 9.81 136.91 9.85 137.21 9.87C137.5 9.89 137.8 9.9 138.1 9.9C138.4 9.9 138.7 9.89 138.99 9.87C139.29 9.85 139.59 9.81 139.89 9.76C140.18 9.71 140.48 9.65 140.78 9.57C141.08 9.48 141.37 9.39 141.67 9.27C141.97 9.16 142.27 9.02 142.56 8.87C142.86 8.72 143.16 8.55 143.46 8.37C143.75 8.18 144.05 7.97 144.35 7.75C144.65 7.52 144.95 7.27 145.24 7.01C145.54 6.74 145.84 6.46 146.14 6.15C146.43 5.85 146.73 5.52 147.03 5.18C147.33 4.83 147.62 4.46 147.92 4.08C148.22 3.69 148.52 3.28 148.81 2.85C149.11 2.42 149.41 1.96 149.71 1.49C150 1.01 150.38 0.37 150.6 0C150.82 -0.37 150.97 -0.63 151.05 -0.75L151.05 -8L125.15 -8Z" fill="#AD8B6D"/>
<path d="M130.02 -0.28C130.07 -0.23 130.16 -0.14 130.3 0C130.44 0.14 130.67 0.37 130.86 0.54C131.04 0.71 131.23 0.88 131.41 1.04C131.6 1.19 131.79 1.34 131.97 1.48C132.16 1.62 132.34 1.76 132.53 1.88C132.71 2.01 132.9 2.13 133.09 2.24C133.27 2.35 133.46 2.45 133.64 2.55C133.83 2.65 134.01 2.73 134.2 2.82C134.39 2.9 134.57 2.97 134.76 3.04C134.94 3.11 135.13 3.17 135.31 3.23C135.5 3.28 135.69 3.33 135.87 3.37C136.06 3.41 136.24 3.45 136.43 3.48C136.61 3.51 136.8 3.53 136.99 3.55C137.17 3.57 137.36 3.58 137.54 3.59C137.73 3.6 137.91 3.6 138.1 3.6C138.29 3.6 138.47 3.6 138.66 3.59C138.84 3.58 139.03 3.57 139.21 3.55C139.4 3.53 139.59 3.51 139.77 3.48C139.96 3.45 140.14 3.41 140.33 3.37C140.51 3.33 140.7 3.28 140.89 3.23C141.07 3.17 141.26 3.11 141.44 3.04C141.63 2.97 141.81 2.9 142 2.82C142.19 2.73 142.37 2.65 142.56 2.55C142.74 2.45 142.93 2.35 143.11 2.24C143.3 2.13 143.49 2.01 143.67 1.88C143.86 1.76 144.04 1.62 144.23 1.48C144.41 1.34 144.6 1.19 144.79 1.04C144.97 0.88 145.16 0.71 145.34 0.54C145.53 0.37 145.76 0.14 145.9 0C146.04 -0.14 146.13 -0.23 146.18 -0.28L146.18 -8L130.02 -8Z" fill="#867D87"/>
<path d="M-6 108.4C-4.95 108.4 -4.33 108.08 0.3 108.4C4.93 108.72 13.75 109.62 21.8 110.3C29.85 110.98 39.65 111.92 48.6 112.5C57.55 113.08 67.78 113.62 75.5 113.8C83.22 113.98 88.08 114.3 94.9 113.6C101.72 112.9 110.88 110.77 116.4 109.6C121.92 108.43 124.65 107.27 128 106.6C131.35 105.93 133.07 105.52 136.5 105.6C139.93 105.68 144.35 106.18 148.6 107.1C152.85 108.02 157.52 110.2 162 111.1C166.48 112 168.78 112.8 175.5 112.5C182.22 112.2 194.68 110.12 202.3 109.3C209.92 108.48 214.48 107.7 221.2 107.6C227.92 107.5 234.33 107.98 242.6 108.7C250.87 109.42 265.12 111.37 270.8 111.9C276.48 112.43 275.72 111.9 276.7 111.9L276.7 274.8L-6 274.8Z" fill="#F0B865"/>
<path d="M-6 128.1C-4.95 128.1 -4.33 127.88 0.3 128.1C4.93 128.32 13.75 129 21.8 129.4C29.85 129.8 39.65 130.42 48.6 130.5C57.55 130.58 67.78 130.1 75.5 129.9C83.22 129.7 88.08 129.78 94.9 129.3C101.72 128.82 109.68 127.72 116.4 127C123.12 126.28 129.83 125.18 135.2 125C140.57 124.82 142.78 125.38 148.6 125.9C154.42 126.42 163.38 127.78 170.1 128.1C176.82 128.42 181.28 128.03 188.9 127.8C196.52 127.57 206.85 126.65 215.8 126.7C224.75 126.75 233.43 127.43 242.6 128.1C251.77 128.77 265.12 130.27 270.8 130.7C276.48 131.13 275.72 130.7 276.7 130.7L276.7 274.8L-6 274.8Z" fill="#E9A853"/>
<path d="M-6 145.2C-4.95 145.2 -4.33 144.97 0.3 145.2C4.93 145.43 13.75 146.32 21.8 146.6C29.85 146.88 39.65 147.02 48.6 146.9C57.55 146.78 67.78 146.22 75.5 145.9C83.22 145.58 88.08 145.45 94.9 145C101.72 144.55 110.58 143.7 116.4 143.2C122.22 142.7 124.43 142.2 129.8 142C135.17 141.8 140.98 141.77 148.6 142C156.22 142.23 166.55 143.08 175.5 143.4C184.45 143.72 193.35 143.6 202.3 143.9C211.25 144.2 220.23 144.7 229.2 145.2C238.17 145.7 249.17 146.45 256.1 146.9C263.03 147.35 267.37 147.73 270.8 147.9C274.23 148.07 275.72 147.9 276.7 147.9L276.7 274.8L-6 274.8Z" fill="#D49B56"/>
<path d="M-6 161.4C-4.95 161.4 -4.33 161.18 0.3 161.4C4.93 161.62 13.75 162.53 21.8 162.7C29.85 162.87 39.65 162.68 48.6 162.4C57.55 162.12 67.78 161.38 75.5 161C83.22 160.62 87.18 160.5 94.9 160.1C102.62 159.7 115.08 158.93 121.8 158.6C128.52 158.27 128.5 158.08 135.2 158.1C141.9 158.12 153.05 158.43 162 158.7C170.95 158.97 179.93 159.25 188.9 159.7C197.87 160.15 206.85 160.85 215.8 161.4C224.75 161.95 233.43 162.52 242.6 163C251.77 163.48 265.12 164.08 270.8 164.3C276.48 164.52 275.72 164.3 276.7 164.3L276.7 274.8L-6 274.8Z" fill="#AD8B6D"/>
<path d="M-6 179.1C-4.95 179.1 -4.33 178.92 0.3 179.1C4.93 179.28 13.75 180.12 21.8 180.2C29.85 180.28 39.65 179.98 48.6 179.6C57.55 179.22 67.78 178.35 75.5 177.9C83.22 177.45 87.18 177.3 94.9 176.9C102.62 176.5 112.85 175.8 121.8 175.5C130.75 175.2 139.65 175.03 148.6 175.1C157.55 175.17 166.55 175.5 175.5 175.9C184.45 176.3 193.35 176.97 202.3 177.5C211.25 178.03 220.23 178.62 229.2 179.1C238.17 179.58 249.17 180.08 256.1 180.4C263.03 180.72 267.37 180.9 270.8 181C274.23 181.1 275.72 181 276.7 181L276.7 274.8L-6 274.8Z" fill="#867D87"/>
<path d="M-6 196.5C-4.95 196.5 -4.33 196.35 0.3 196.5C4.93 196.65 13.75 197.35 21.8 197.4C29.85 197.45 39.65 197.12 48.6 196.8C57.55 196.48 67.78 195.83 75.5 195.5C83.22 195.17 87.18 195.08 94.9 194.8C102.62 194.52 112.85 194 121.8 193.8C130.75 193.6 139.65 193.5 148.6 193.6C157.55 193.7 166.55 194.05 175.5 194.4C184.45 194.75 193.35 195.25 202.3 195.7C211.25 196.15 220.23 196.73 229.2 197.1C238.17 197.47 249.17 197.77 256.1 197.9C263.03 198.03 267.37 197.9 270.8 197.9C274.23 197.9 275.72 197.9 276.7 197.9L276.7 274.8L-6 274.8Z" fill="#5D71A5"/>
<path d="M-6 219.1C-4.95 219.1 -4.33 219.02 0.3 219.1C4.93 219.18 13.75 219.55 21.8 219.6C29.85 219.65 39.65 219.58 48.6 219.4C57.55 219.22 67.78 218.73 75.5 218.5C83.22 218.27 87.18 218.22 94.9 218C102.62 217.78 112.85 217.37 121.8 217.2C130.75 217.03 139.65 217 148.6 217C157.55 217 166.55 216.98 175.5 217.2C184.45 217.42 193.35 217.93 202.3 218.3C211.25 218.67 220.23 219.13 229.2 219.4C238.17 219.67 249.17 219.82 256.1 219.9C263.03 219.98 267.37 219.9 270.8 219.9C274.23 219.9 275.72 219.9 276.7 219.9L276.7 274.8L-6 274.8Z" fill="#25528A"/>
<g stroke="#000" stroke-opacity="0.55" stroke-width="1.55" fill="none" stroke-linejoin="round">
<path d="M-6 35.6C-5 35.6 -2 35.27 0 35.6C2 35.93 3.53 37.15 6 37.6C8.47 38.05 10.82 38.43 14.8 38.3C18.78 38.17 25.88 37.43 29.9 36.8C33.92 36.17 35.93 35.55 38.9 34.5C41.87 33.45 44.78 32.12 47.7 30.5C50.62 28.88 53.48 26.92 56.4 24.8C59.32 22.68 62.28 20.28 65.2 17.8C68.12 15.32 71.57 12.17 73.9 9.9C76.23 7.63 77.73 5.85 79.2 4.2C80.67 2.55 81.83 1.05 82.7 0C83.58 -1.05 84.16 -1.76 84.45 -2.11"/>
<path d="M-6 22.5C-5 22.5 -2 22.18 0 22.5C2 22.82 3.15 23.97 6 24.4C8.85 24.83 13.12 25.13 17.1 25.1C21.08 25.07 26.27 24.68 29.9 24.2C33.53 23.72 35.93 23.05 38.9 22.2C41.87 21.35 44.78 20.42 47.7 19.1C50.62 17.78 53.48 16.12 56.4 14.3C59.32 12.48 62.72 10.02 65.2 8.2C67.68 6.38 69.63 4.77 71.3 3.4C72.97 2.03 74.22 0.85 75.2 0C76.18 -0.85 76.83 -1.43 77.15 -1.71"/>
<path d="M-6 14.3C-5 14.3 -2 14.05 0 14.3C2 14.55 3.15 15.45 6 15.8C8.85 16.15 13.12 16.5 17.1 16.4C21.08 16.3 26.27 15.77 29.9 15.2C33.53 14.63 35.93 13.8 38.9 13C41.87 12.2 44.78 11.5 47.7 10.4C50.62 9.3 53.78 7.72 56.4 6.4C59.02 5.08 61.57 3.57 63.4 2.5C65.23 1.43 66.4 0.63 67.4 0C68.4 -0.63 69.07 -1.05 69.4 -1.26"/>
<path d="M-6 7.1C-5 7.1 -2 6.85 0 7.1C2 7.35 3.15 8.27 6 8.6C8.85 8.93 13.12 9.27 17.1 9.1C21.08 8.93 26.27 8.27 29.9 7.6C33.53 6.93 35.93 5.83 38.9 5.1C41.87 4.37 44.78 4.05 47.7 3.2C50.62 2.35 54.23 0.8 56.4 0C58.57 -0.8 60.02 -1.34 60.75 -1.61"/>
<path d="M-6 0.5C-5 0.5 -2.33 0.37 0 0.5C2.33 0.63 5.17 1.08 8 1.3C10.83 1.52 14.17 1.8 17 1.8C19.83 1.8 22.5 1.6 25 1.3C27.5 1 30.25 0.33 32 0C33.75 -0.33 34.92 -0.55 35.5 -0.66"/>
<path d="M190.25 -4.01C190.72 -3.34 191.67 -2 193.1 0C194.53 2 196.68 5.28 198.8 8C200.92 10.72 203.32 13.77 205.8 16.3C208.28 18.83 210.93 21.1 213.7 23.2C216.47 25.3 219.48 27.3 222.4 28.9C225.32 30.5 228.78 31.85 231.2 32.8C233.62 33.75 234.5 33.92 236.9 34.6C239.3 35.28 242.6 36.33 245.6 36.9C248.6 37.47 252.17 37.82 254.9 38C257.63 38.18 259.37 38.22 262 38C264.63 37.78 268.08 37.09 270.7 36.7C273.32 36.31 276.53 35.83 277.7 35.65"/>
<path d="M198.15 -2.91C198.62 -2.42 199.57 -1.45 201 0C202.43 1.45 204.58 3.8 206.7 5.8C208.82 7.8 211.37 10.17 213.7 12C216.03 13.83 218.07 15.32 220.7 16.8C223.33 18.28 226.8 19.82 229.5 20.9C232.2 21.98 234.22 22.62 236.9 23.3C239.58 23.98 242.2 24.55 245.6 25C249 25.45 254.18 25.88 257.3 26C260.42 26.12 262.07 25.97 264.3 25.7C266.53 25.43 268.47 24.85 270.7 24.4C272.93 23.95 276.53 23.22 277.7 22.98"/>
<path d="M206.9 -1.81C207.35 -1.51 208.25 -0.9 209.6 0C210.95 0.9 212.88 2.35 215 3.6C217.12 4.85 219.15 6.05 222.3 7.5C225.45 8.95 230.02 11 233.9 12.3C237.78 13.6 241.7 14.53 245.6 15.3C249.5 16.07 254.18 16.63 257.3 16.9C260.42 17.17 262.07 17.05 264.3 16.9C266.53 16.75 268.47 16.31 270.7 16C272.93 15.69 276.53 15.18 277.7 15.02"/>
<path d="M215.6 -2.21C216.62 -1.84 218.65 -1.1 221.7 0C224.75 1.1 229.92 3.22 233.9 4.4C237.88 5.58 241.7 6.38 245.6 7.1C249.5 7.82 254.18 8.42 257.3 8.7C260.42 8.98 262.07 8.88 264.3 8.8C266.53 8.72 268.47 8.41 270.7 8.2C272.93 7.99 276.53 7.65 277.7 7.54"/>
<path d="M235.6 -0.51C236.4 -0.42 238 -0.25 240.4 0C242.8 0.25 246.4 0.72 250 1C253.6 1.28 258.55 1.58 262 1.7C265.45 1.82 268.08 1.7 270.7 1.7C273.32 1.7 276.53 1.7 277.7 1.7"/>
<path d="M93.3 -3.21C93 -2.67 92.4 -1.6 91.5 0C90.6 1.6 89.37 3.93 87.9 6.4C86.43 8.87 85.03 11.37 82.7 14.8C80.37 18.23 76.82 23.28 73.9 27C70.98 30.72 68.12 33.95 65.2 37.1C62.28 40.25 59.32 43.2 56.4 45.9C53.48 48.6 50.17 51.4 47.7 53.3C45.23 55.2 44.57 55.58 41.6 57.3C38.63 59.02 32.92 62.1 29.9 63.6C26.88 65.1 24.92 65.57 23.5 66.3C22.08 67.03 21.57 67.22 21.4 68C21.23 68.78 21.67 69.78 22.5 71C23.33 72.22 22.23 73.18 26.4 75.3C30.57 77.42 40.48 81.08 47.5 83.7C54.52 86.32 62.2 89.07 68.5 91C74.8 92.93 80.4 94.42 85.3 95.3C90.2 96.18 93.7 96.65 97.9 96.3C102.1 95.95 106.65 94.95 110.5 93.2C114.35 91.45 118.17 88.67 121 85.8C123.83 82.93 125.95 79.3 127.5 76C129.05 72.7 130.02 69.27 130.3 66C130.58 62.73 130.05 59.75 129.2 56.4C128.35 53.05 126.92 50.47 125.2 45.9C123.48 41.33 121 34.27 118.9 29C116.8 23.73 114.58 19.13 112.6 14.3C110.62 9.47 108.4 3.58 107 0C105.6 -3.58 104.67 -5.97 104.2 -7.16"/>
<path d="M181.45 -5.11C181.93 -4.26 182.88 -2.55 184.3 0C185.73 2.55 187.88 6.62 190 10.2C192.12 13.78 194.65 17.87 197 21.5C199.35 25.13 201.62 28.75 204.1 32C206.58 35.25 209.43 38.57 211.9 41C214.37 43.43 216.27 44.38 218.9 46.6C221.53 48.82 224.78 51.98 227.7 54.3C230.62 56.62 233.8 58.73 236.4 60.5C239 62.27 241.68 63.82 243.3 64.9C244.92 65.98 245.6 65.98 246.1 67C246.6 68.02 246.65 70.05 246.3 71C245.95 71.95 245.65 71.97 244 72.7C242.35 73.43 239.12 74.42 236.4 75.4C233.68 76.38 230.62 77.55 227.7 78.6C224.78 79.65 221.68 80.63 218.9 81.7C216.12 82.77 214.48 83.55 211 85C207.52 86.45 202.27 88.87 198 90.4C193.73 91.93 189.27 93.38 185.4 94.2C181.53 95.02 178.67 95.82 174.8 95.3C170.93 94.78 165.87 93.38 162.2 91.1C158.53 88.82 155.32 85.28 152.8 81.6C150.28 77.92 148.15 73.2 147.1 69C146.05 64.8 145.82 61.32 146.5 56.4C147.18 51.48 148.9 45.57 151.2 39.5C153.5 33.43 157.95 25.25 160.3 20C162.65 14.75 163.93 11.33 165.3 8C166.67 4.67 167.7 2 168.5 0C169.3 -2 169.83 -3.34 170.1 -4.01"/>
<path d="M285 58C282.9 55.07 275.57 62.02 272.4 63.4C269.23 64.78 267.45 65.45 266 66.3C264.55 67.15 263.87 67.63 263.7 68.5C263.53 69.37 264.13 70.37 265 71.5C265.87 72.63 265.57 73.72 268.9 75.3C272.23 76.88 282.32 83.88 285 81C287.68 78.12 287.1 60.93 285 58Z"/>
<path d="M98.5 10.8C96.65 11.12 94.47 13.27 92.6 15.6C90.73 17.93 88.95 21.28 87.3 24.8C85.65 28.32 83.95 32.75 82.7 36.7C81.45 40.65 80.23 45 79.8 48.5C79.37 52 79.4 54.63 80.1 57.7C80.8 60.77 82.13 64.38 84 66.9C85.87 69.42 88.88 71.48 91.3 72.8C93.72 74.12 96.1 74.8 98.5 74.8C100.9 74.8 103.62 74.12 105.7 72.8C107.78 71.48 109.62 69.63 111 66.9C112.38 64.17 113.45 59.9 114 56.4C114.55 52.9 114.58 49.85 114.3 45.9C114.02 41.95 113.3 36.87 112.3 32.7C111.3 28.53 109.73 24.07 108.3 20.9C106.87 17.73 105.33 15.38 103.7 13.7C102.07 12.02 100.35 10.48 98.5 10.8Z"/>
<path d="M176.7 10.8C175.17 11.5 172.47 13.05 170.7 15.6C168.93 18.15 167.4 22.15 166.1 26.1C164.8 30.05 163.6 35.35 162.9 39.3C162.2 43.25 161.8 46.52 161.9 49.8C162 53.08 162.57 56.15 163.5 59C164.43 61.85 165.97 64.78 167.5 66.9C169.03 69.02 171.07 70.72 172.7 71.7C174.33 72.68 175.43 72.95 177.3 72.8C179.17 72.65 181.7 72.23 183.9 70.8C186.1 69.37 188.75 66.83 190.5 64.2C192.25 61.57 193.6 58.05 194.4 55C195.2 51.95 195.52 49.4 195.3 45.9C195.08 42.4 194.23 37.95 193.1 34C191.97 30.05 190.15 25.48 188.5 22.2C186.85 18.92 184.63 16.1 183.2 14.3C181.77 12.5 180.98 11.98 179.9 11.4C178.82 10.82 178.23 10.1 176.7 10.8Z"/>
<path d="M112 -3C112.15 -2.5 112.45 -1.49 112.9 0C113.35 1.49 114.1 4.07 114.7 5.97C115.3 7.88 115.9 9.69 116.5 11.42C117.1 13.15 117.7 14.79 118.3 16.35C118.9 17.9 119.5 19.37 120.1 20.76C120.7 22.15 121.3 23.46 121.9 24.68C122.5 25.91 123.1 27.05 123.7 28.11C124.3 29.17 124.9 30.15 125.5 31.06C126.1 31.97 126.7 32.79 127.3 33.54C127.9 34.3 128.5 34.97 129.1 35.58C129.7 36.18 130.3 36.71 130.9 37.18C131.5 37.64 132.1 38.03 132.7 38.36C133.3 38.69 133.9 38.95 134.5 39.15C135.1 39.35 135.7 39.49 136.3 39.58C136.9 39.67 137.5 39.7 138.1 39.7C138.7 39.7 139.3 39.67 139.9 39.58C140.5 39.49 141.1 39.35 141.7 39.15C142.3 38.95 142.9 38.69 143.5 38.36C144.1 38.03 144.7 37.64 145.3 37.18C145.9 36.71 146.5 36.18 147.1 35.58C147.7 34.97 148.3 34.3 148.9 33.54C149.5 32.79 150.1 31.97 150.7 31.06C151.3 30.15 151.9 29.17 152.5 28.11C153.1 27.05 153.7 25.91 154.3 24.68C154.9 23.46 155.5 22.15 156.1 20.76C156.7 19.37 157.3 17.9 157.9 16.35C158.5 14.79 159.1 13.15 159.7 11.42C160.3 9.69 160.9 7.88 161.5 5.97C162.1 4.07 162.85 1.49 163.3 0C163.75 -1.49 164.05 -2.5 164.2 -3"/>
<path d="M116.56 -2.04C116.68 -1.7 116.93 -1.02 117.3 0C117.67 1.02 118.29 2.77 118.79 4.06C119.28 5.36 119.78 6.59 120.27 7.77C120.77 8.94 121.26 10.06 121.76 11.12C122.25 12.18 122.75 13.18 123.24 14.12C123.74 15.07 124.23 15.95 124.73 16.79C125.22 17.62 125.72 18.39 126.21 19.12C126.71 19.84 127.2 20.51 127.7 21.12C128.2 21.74 128.69 22.3 129.19 22.81C129.68 23.33 130.18 23.79 130.67 24.2C131.17 24.61 131.66 24.97 132.16 25.28C132.65 25.6 133.15 25.87 133.64 26.09C134.14 26.31 134.63 26.49 135.13 26.63C135.62 26.76 136.12 26.86 136.61 26.92C137.11 26.98 137.6 27 138.1 27C138.6 27 139.09 26.98 139.59 26.92C140.08 26.86 140.58 26.76 141.07 26.63C141.57 26.49 142.06 26.31 142.56 26.09C143.05 25.87 143.55 25.6 144.04 25.28C144.54 24.97 145.03 24.61 145.53 24.2C146.02 23.79 146.52 23.33 147.01 22.81C147.51 22.3 148 21.74 148.5 21.12C149 20.51 149.49 19.84 149.99 19.12C150.48 18.39 150.98 17.62 151.47 16.79C151.97 15.95 152.46 15.07 152.96 14.12C153.45 13.18 153.95 12.18 154.44 11.12C154.94 10.06 155.43 8.94 155.93 7.77C156.42 6.59 156.92 5.36 157.41 4.06C157.91 2.77 158.53 1.02 158.9 0C159.27 -1.02 159.52 -1.7 159.64 -2.04"/>
<path d="M120.6 -1.32C120.7 -1.1 120.9 -0.66 121.2 0C121.5 0.66 122 1.78 122.41 2.62C122.81 3.45 123.21 4.25 123.61 5C124.02 5.76 124.42 6.48 124.82 7.16C125.22 7.85 125.63 8.49 126.03 9.1C126.43 9.71 126.83 10.28 127.24 10.82C127.64 11.35 128.04 11.85 128.44 12.32C128.85 12.79 129.25 13.22 129.65 13.61C130.05 14.01 130.45 14.37 130.86 14.7C131.26 15.03 131.66 15.33 132.06 15.59C132.47 15.86 132.87 16.09 133.27 16.29C133.67 16.5 134.08 16.67 134.48 16.81C134.88 16.96 135.28 17.07 135.69 17.16C136.09 17.25 136.49 17.31 136.89 17.35C137.3 17.39 137.7 17.4 138.1 17.4C138.5 17.4 138.9 17.39 139.31 17.35C139.71 17.31 140.11 17.25 140.51 17.16C140.92 17.07 141.32 16.96 141.72 16.81C142.12 16.67 142.53 16.5 142.93 16.29C143.33 16.09 143.73 15.86 144.14 15.59C144.54 15.33 144.94 15.03 145.34 14.7C145.75 14.37 146.15 14.01 146.55 13.61C146.95 13.22 147.35 12.79 147.76 12.32C148.16 11.85 148.56 11.35 148.96 10.82C149.37 10.28 149.77 9.71 150.17 9.1C150.57 8.49 150.98 7.85 151.38 7.16C151.78 6.48 152.18 5.76 152.59 5C152.99 4.25 153.39 3.45 153.79 2.62C154.2 1.78 154.7 0.66 155 0C155.3 -0.66 155.5 -1.1 155.6 -1.32"/>
<path d="M125.15 -0.75C125.23 -0.63 125.38 -0.37 125.6 0C125.82 0.37 126.2 1.01 126.49 1.49C126.79 1.96 127.09 2.42 127.39 2.85C127.68 3.28 127.98 3.69 128.28 4.08C128.58 4.46 128.87 4.83 129.17 5.18C129.47 5.52 129.77 5.85 130.06 6.15C130.36 6.46 130.66 6.74 130.96 7.01C131.25 7.27 131.55 7.52 131.85 7.75C132.15 7.97 132.45 8.18 132.74 8.37C133.04 8.55 133.34 8.72 133.64 8.87C133.93 9.02 134.23 9.16 134.53 9.27C134.83 9.39 135.12 9.48 135.42 9.57C135.72 9.65 136.02 9.71 136.31 9.76C136.61 9.81 136.91 9.85 137.21 9.87C137.5 9.89 137.8 9.9 138.1 9.9C138.4 9.9 138.7 9.89 138.99 9.87C139.29 9.85 139.59 9.81 139.89 9.76C140.18 9.71 140.48 9.65 140.78 9.57C141.08 9.48 141.37 9.39 141.67 9.27C141.97 9.16 142.27 9.02 142.56 8.87C142.86 8.72 143.16 8.55 143.46 8.37C143.75 8.18 144.05 7.97 144.35 7.75C144.65 7.52 144.95 7.27 145.24 7.01C145.54 6.74 145.84 6.46 146.14 6.15C146.43 5.85 146.73 5.52 147.03 5.18C147.33 4.83 147.62 4.46 147.92 4.08C148.22 3.69 148.52 3.28 148.81 2.85C149.11 2.42 149.41 1.96 149.71 1.49C150 1.01 150.38 0.37 150.6 0C150.82 -0.37 150.97 -0.63 151.05 -0.75"/>
<path d="M130.02 -0.28C130.07 -0.23 130.16 -0.14 130.3 0C130.44 0.14 130.67 0.37 130.86 0.54C131.04 0.71 131.23 0.88 131.41 1.04C131.6 1.19 131.79 1.34 131.97 1.48C132.16 1.62 132.34 1.76 132.53 1.88C132.71 2.01 132.9 2.13 133.09 2.24C133.27 2.35 133.46 2.45 133.64 2.55C133.83 2.65 134.01 2.73 134.2 2.82C134.39 2.9 134.57 2.97 134.76 3.04C134.94 3.11 135.13 3.17 135.31 3.23C135.5 3.28 135.69 3.33 135.87 3.37C136.06 3.41 136.24 3.45 136.43 3.48C136.61 3.51 136.8 3.53 136.99 3.55C137.17 3.57 137.36 3.58 137.54 3.59C137.73 3.6 137.91 3.6 138.1 3.6C138.29 3.6 138.47 3.6 138.66 3.59C138.84 3.58 139.03 3.57 139.21 3.55C139.4 3.53 139.59 3.51 139.77 3.48C139.96 3.45 140.14 3.41 140.33 3.37C140.51 3.33 140.7 3.28 140.89 3.23C141.07 3.17 141.26 3.11 141.44 3.04C141.63 2.97 141.81 2.9 142 2.82C142.19 2.73 142.37 2.65 142.56 2.55C142.74 2.45 142.93 2.35 143.11 2.24C143.3 2.13 143.49 2.01 143.67 1.88C143.86 1.76 144.04 1.62 144.23 1.48C144.41 1.34 144.6 1.19 144.79 1.04C144.97 0.88 145.16 0.71 145.34 0.54C145.53 0.37 145.76 0.14 145.9 0C146.04 -0.14 146.13 -0.23 146.18 -0.28"/>
<path d="M-6 108.4C-4.95 108.4 -4.33 108.08 0.3 108.4C4.93 108.72 13.75 109.62 21.8 110.3C29.85 110.98 39.65 111.92 48.6 112.5C57.55 113.08 67.78 113.62 75.5 113.8C83.22 113.98 88.08 114.3 94.9 113.6C101.72 112.9 110.88 110.77 116.4 109.6C121.92 108.43 124.65 107.27 128 106.6C131.35 105.93 133.07 105.52 136.5 105.6C139.93 105.68 144.35 106.18 148.6 107.1C152.85 108.02 157.52 110.2 162 111.1C166.48 112 168.78 112.8 175.5 112.5C182.22 112.2 194.68 110.12 202.3 109.3C209.92 108.48 214.48 107.7 221.2 107.6C227.92 107.5 234.33 107.98 242.6 108.7C250.87 109.42 265.12 111.37 270.8 111.9C276.48 112.43 275.72 111.9 276.7 111.9"/>
<path d="M-6 128.1C-4.95 128.1 -4.33 127.88 0.3 128.1C4.93 128.32 13.75 129 21.8 129.4C29.85 129.8 39.65 130.42 48.6 130.5C57.55 130.58 67.78 130.1 75.5 129.9C83.22 129.7 88.08 129.78 94.9 129.3C101.72 128.82 109.68 127.72 116.4 127C123.12 126.28 129.83 125.18 135.2 125C140.57 124.82 142.78 125.38 148.6 125.9C154.42 126.42 163.38 127.78 170.1 128.1C176.82 128.42 181.28 128.03 188.9 127.8C196.52 127.57 206.85 126.65 215.8 126.7C224.75 126.75 233.43 127.43 242.6 128.1C251.77 128.77 265.12 130.27 270.8 130.7C276.48 131.13 275.72 130.7 276.7 130.7"/>
<path d="M-6 145.2C-4.95 145.2 -4.33 144.97 0.3 145.2C4.93 145.43 13.75 146.32 21.8 146.6C29.85 146.88 39.65 147.02 48.6 146.9C57.55 146.78 67.78 146.22 75.5 145.9C83.22 145.58 88.08 145.45 94.9 145C101.72 144.55 110.58 143.7 116.4 143.2C122.22 142.7 124.43 142.2 129.8 142C135.17 141.8 140.98 141.77 148.6 142C156.22 142.23 166.55 143.08 175.5 143.4C184.45 143.72 193.35 143.6 202.3 143.9C211.25 144.2 220.23 144.7 229.2 145.2C238.17 145.7 249.17 146.45 256.1 146.9C263.03 147.35 267.37 147.73 270.8 147.9C274.23 148.07 275.72 147.9 276.7 147.9"/>
<path d="M-6 161.4C-4.95 161.4 -4.33 161.18 0.3 161.4C4.93 161.62 13.75 162.53 21.8 162.7C29.85 162.87 39.65 162.68 48.6 162.4C57.55 162.12 67.78 161.38 75.5 161C83.22 160.62 87.18 160.5 94.9 160.1C102.62 159.7 115.08 158.93 121.8 158.6C128.52 158.27 128.5 158.08 135.2 158.1C141.9 158.12 153.05 158.43 162 158.7C170.95 158.97 179.93 159.25 188.9 159.7C197.87 160.15 206.85 160.85 215.8 161.4C224.75 161.95 233.43 162.52 242.6 163C251.77 163.48 265.12 164.08 270.8 164.3C276.48 164.52 275.72 164.3 276.7 164.3"/>
<path d="M-6 179.1C-4.95 179.1 -4.33 178.92 0.3 179.1C4.93 179.28 13.75 180.12 21.8 180.2C29.85 180.28 39.65 179.98 48.6 179.6C57.55 179.22 67.78 178.35 75.5 177.9C83.22 177.45 87.18 177.3 94.9 176.9C102.62 176.5 112.85 175.8 121.8 175.5C130.75 175.2 139.65 175.03 148.6 175.1C157.55 175.17 166.55 175.5 175.5 175.9C184.45 176.3 193.35 176.97 202.3 177.5C211.25 178.03 220.23 178.62 229.2 179.1C238.17 179.58 249.17 180.08 256.1 180.4C263.03 180.72 267.37 180.9 270.8 181C274.23 181.1 275.72 181 276.7 181"/>
<path d="M-6 196.5C-4.95 196.5 -4.33 196.35 0.3 196.5C4.93 196.65 13.75 197.35 21.8 197.4C29.85 197.45 39.65 197.12 48.6 196.8C57.55 196.48 67.78 195.83 75.5 195.5C83.22 195.17 87.18 195.08 94.9 194.8C102.62 194.52 112.85 194 121.8 193.8C130.75 193.6 139.65 193.5 148.6 193.6C157.55 193.7 166.55 194.05 175.5 194.4C184.45 194.75 193.35 195.25 202.3 195.7C211.25 196.15 220.23 196.73 229.2 197.1C238.17 197.47 249.17 197.77 256.1 197.9C263.03 198.03 267.37 197.9 270.8 197.9C274.23 197.9 275.72 197.9 276.7 197.9"/>
<path d="M-6 219.1C-4.95 219.1 -4.33 219.02 0.3 219.1C4.93 219.18 13.75 219.55 21.8 219.6C29.85 219.65 39.65 219.58 48.6 219.4C57.55 219.22 67.78 218.73 75.5 218.5C83.22 218.27 87.18 218.22 94.9 218C102.62 217.78 112.85 217.37 121.8 217.2C130.75 217.03 139.65 217 148.6 217C157.55 217 166.55 216.98 175.5 217.2C184.45 217.42 193.35 217.93 202.3 218.3C211.25 218.67 220.23 219.13 229.2 219.4C238.17 219.67 249.17 219.82 256.1 219.9C263.03 219.98 267.37 219.9 270.8 219.9C274.23 219.9 275.72 219.9 276.7 219.9"/>
</g>
</g>
<rect x="56.2" y="406.6" width="281.2" height="280.4" fill="none" stroke="#9a9a9a" stroke-width="0.9"/>
<path d="M61.45 687v-3.4 M61.45 406.6v3.4 M69.16 687v-2 M69.16 406.6v2 M76.87 687v-2 M76.87 406.6v2 M84.59 687v-2 M84.59 406.6v2 M92.3 687v-2 M92.3 406.6v2 M100.01 687v-3.4 M100.01 406.6v3.4 M107.72 687v-2 M107.72 406.6v2 M115.43 687v-2 M115.43 406.6v2 M123.15 687v-2 M123.15 406.6v2 M130.86 687v-2 M130.86 406.6v2 M138.57 687v-3.4 M138.57 406.6v3.4 M146.28 687v-2 M146.28 406.6v2 M153.99 687v-2 M153.99 406.6v2 M161.71 687v-2 M161.71 406.6v2 M169.42 687v-2 M169.42 406.6v2 M177.13 687v-3.4 M177.13 406.6v3.4 M184.84 687v-2 M184.84 406.6v2 M192.55 687v-2 M192.55 406.6v2 M200.27 687v-2 M200.27 406.6v2 M207.98 687v-2 M207.98 406.6v2 M215.69 687v-3.4 M215.69 406.6v3.4 M223.4 687v-2 M223.4 406.6v2 M231.11 687v-2 M231.11 406.6v2 M238.83 687v-2 M238.83 406.6v2 M246.54 687v-2 M246.54 406.6v2 M254.25 687v-3.4 M254.25 406.6v3.4 M261.96 687v-2 M261.96 406.6v2 M269.67 687v-2 M269.67 406.6v2 M277.39 687v-2 M277.39 406.6v2 M285.1 687v-2 M285.1 406.6v2 M292.81 687v-3.4 M292.81 406.6v3.4 M300.52 687v-2 M300.52 406.6v2 M308.23 687v-2 M308.23 406.6v2 M315.95 687v-2 M315.95 406.6v2 M323.66 687v-2 M323.66 406.6v2 M331.37 687v-3.4 M331.37 406.6v3.4 M56.2 681.7h3.8 M337.4 681.7h-3.8 M56.2 667.35h2.4 M337.4 667.35h-2.4 M56.2 653h2.4 M337.4 653h-2.4 M56.2 638.65h2.4 M337.4 638.65h-2.4 M56.2 624.3h3.8 M337.4 624.3h-3.8 M56.2 609.95h2.4 M337.4 609.95h-2.4 M56.2 595.6h2.4 M337.4 595.6h-2.4 M56.2 581.25h2.4 M337.4 581.25h-2.4 M56.2 566.9h3.8 M337.4 566.9h-3.8 M56.2 552.55h2.4 M337.4 552.55h-2.4 M56.2 538.2h2.4 M337.4 538.2h-2.4 M56.2 523.85h2.4 M337.4 523.85h-2.4 M56.2 509.5h3.8 M337.4 509.5h-3.8 M56.2 495.15h2.4 M337.4 495.15h-2.4 M56.2 480.8h2.4 M337.4 480.8h-2.4 M56.2 466.45h2.4 M337.4 466.45h-2.4 M56.2 452.1h3.8 M337.4 452.1h-3.8 M56.2 437.75h2.4 M337.4 437.75h-2.4 M56.2 423.4h2.4 M337.4 423.4h-2.4 M56.2 409.05h2.4 M337.4 409.05h-2.4 " stroke="#6e6e6e" stroke-width="0.7" fill="none"/>
<g font-family="Liberation Sans, Arial, Helvetica, sans-serif" font-weight="bold" font-size="18.2px" fill="#000">
<text x="52.6" y="688.4" text-anchor="end">0.0</text>
<text x="52.6" y="631" text-anchor="end">0.2</text>
<text x="52.6" y="573.6" text-anchor="end">0.4</text>
<text x="52.6" y="516.2" text-anchor="end">0.6</text>
<text x="52.6" y="458.8" text-anchor="end">0.8</text>
<text x="49.85" y="707.6"><tspan font-size="22.4px" dy="1.2">-</tspan><tspan dy="-1.2" dx="5.6">2</tspan></text>
<text x="88.41" y="707.6"><tspan font-size="22.4px" dy="1.2">-</tspan><tspan dy="-1.2" dx="5.6">1</tspan></text>
<text x="138.97" y="707.6" text-anchor="middle">0</text>
<text x="177.53" y="707.6" text-anchor="middle">1</text>
<text x="216.09" y="707.6" text-anchor="middle">2</text>
<text x="254.65" y="707.6" text-anchor="middle">3</text>
<text x="293.21" y="707.6" text-anchor="middle">4</text>
<text x="331.77" y="707.6" text-anchor="middle">5</text>
<text x="196.45" y="736.4" text-anchor="middle">z</text>
<text transform="translate(16.1 547.1) rotate(-90)" text-anchor="middle">r</text>
</g>
<text x="196.1" y="767.7" text-anchor="middle" font-family="Liberation Serif, serif" font-size="21.5px" fill="#111"><tspan font-size="24.5px">(</tspan>c<tspan font-size="24.5px">)</tspan></text>
<g transform="translate(410.1 411.9)" clip-path="url(#clipB)">
<rect x="-1" y="-1" width="272.7" height="271.8" fill="#F9D28C"/>
<path d="M-6 28C-5 28 -2.33 27.8 0 28C2.33 28.2 5.2 28.95 8 29.2C10.8 29.45 11.68 29.77 16.8 29.5C21.92 29.23 32.62 28.65 38.7 27.6C44.78 26.55 48.92 25.15 53.3 23.2C57.68 21.25 61.6 18.7 65 15.9C68.4 13.1 71.52 9.05 73.7 6.4C75.88 3.75 77 1.6 78.1 0C79.2 -1.6 79.93 -2.67 80.3 -3.21L80.3 -8L-8 -8L-8 28Z" fill="#F0BC6E"/>
<path d="M-6 10.8C-5 10.8 -2.33 10.6 0 10.8C2.33 11 5.2 11.75 8 12C10.8 12.25 11.68 12.62 16.8 12.3C21.92 11.98 32.62 11.2 38.7 10.1C44.78 9 48.97 7.38 53.3 5.7C57.63 4.02 61.85 1.43 64.7 0C67.55 -1.43 69.45 -2.38 70.4 -2.86L70.4 -8L-8 -8L-8 10.8Z" fill="#E8A654"/>
<path d="M194.25 -4.81C194.93 -4.01 196.28 -2.4 198.3 0C200.33 2.4 203.35 6.63 206.4 9.6C209.45 12.57 213.18 15.58 216.6 17.8C220.02 20.02 223.48 21.53 226.9 22.9C230.32 24.27 233.7 25.15 237.1 26C240.5 26.85 243.9 27.48 247.3 28C250.7 28.52 253.75 28.92 257.5 29.1C261.25 29.28 266.43 29.1 269.8 29.1C273.17 29.1 276.38 29.1 277.7 29.1L278.7 -8L194.25 -8Z" fill="#F0BC6E"/>
<path d="M206.9 -2.81C207.67 -2.34 209.2 -1.4 211.5 0C213.8 1.4 217.45 4.07 220.7 5.6C223.95 7.13 227.58 8.25 231 9.2C234.42 10.15 237.47 10.78 241.2 11.3C244.93 11.82 249.65 12.13 253.4 12.3C257.15 12.47 260.97 12.4 263.7 12.3C266.43 12.2 267.47 11.93 269.8 11.7C272.13 11.47 276.38 11.05 277.7 10.92L278.7 -8L206.9 -8Z" fill="#E8A654"/>
<path d="M10 -0.29C10.42 -0.24 11.25 -0.14 12.5 0C13.75 0.14 15.83 0.55 17.5 0.55C19.17 0.55 21.25 0.14 22.5 0C23.75 -0.14 24.58 -0.24 25 -0.29L25 -8L10 -8Z" fill="#BE9060"/>
<path d="M254.35 -0.26C254.71 -0.22 255.43 -0.13 256.5 0C257.57 0.13 259.38 0.5 260.8 0.5C262.22 0.5 263.95 0.13 265 0C266.05 -0.13 266.75 -0.22 267.1 -0.26L267.1 -8L254.35 -8Z" fill="#BE9060"/>
<path d="M95.55 -7.61C94.83 -6.34 93.38 -3.8 91.2 0C89.03 3.8 85.42 9.98 82.5 15.2C79.58 20.42 76.62 26.18 73.7 31.3C70.78 36.42 68.15 41.28 65 45.9C61.85 50.52 57.72 55.48 54.8 59C51.88 62.52 49.02 65.17 47.5 67C45.98 68.83 45.87 68.83 45.7 70C45.53 71.17 45.85 72.63 46.5 74C47.15 75.37 47.73 76.57 49.6 78.2C51.47 79.83 55.25 82.45 57.7 83.8C60.15 85.15 60.75 84.73 64.3 86.3C67.85 87.87 74.1 91.35 79 93.2C83.9 95.05 89.5 97.05 93.7 97.4C97.9 97.75 101.05 97.23 104.2 95.3C107.35 93.37 110.6 89.35 112.6 85.8C114.6 82.25 115.77 77.73 116.2 74C116.63 70.27 115.75 68.67 115.2 63.4C114.65 58.13 114.15 49.7 112.9 42.4C111.65 35.1 109.73 26.67 107.7 19.6C105.67 12.53 102.45 4.9 100.7 0C98.95 -4.9 97.78 -8.18 97.2 -9.81L97.2 -8L95.55 -8Z" fill="#FFF1C0"/>
<path d="M182.75 -3.51C183.06 -2.92 183.67 -1.75 184.6 0C185.53 1.75 186.82 4.03 188.3 7C189.78 9.97 191.67 14.28 193.5 17.8C195.33 21.32 197.55 25.07 199.3 28.1C201.05 31.13 202.47 33.45 204 36C205.53 38.55 206.95 40.9 208.5 43.4C210.05 45.9 211.77 48.58 213.3 51C214.83 53.42 216.42 55.73 217.7 57.9C218.98 60.07 220.18 62.27 221 64C221.82 65.73 222.47 66.92 222.6 68.3C222.73 69.68 222.73 70.72 221.8 72.3C220.87 73.88 218.87 75.97 217 77.8C215.13 79.63 213.38 81.28 210.6 83.3C207.82 85.32 203.72 88.03 200.3 89.9C196.88 91.77 193.17 93.38 190.1 94.5C187.03 95.62 184.63 96.43 181.9 96.6C179.17 96.77 176.42 97.05 173.7 95.5C170.98 93.95 167.82 90.7 165.6 87.3C163.38 83.9 161.5 79.53 160.4 75.1C159.3 70.67 158.65 66.5 159 60.7C159.35 54.9 160.9 47.45 162.5 40.3C164.1 33.15 166.55 24.52 168.6 17.8C170.65 11.08 173.25 4.45 174.8 0C176.35 -4.45 177.38 -7.42 177.9 -8.91L177.9 -8L182.75 -8Z" fill="#FFF1C0"/>
<path d="M108.18 -4.51C108.35 -3.76 108.69 -2.25 109.2 0C109.71 2.25 110.57 6.13 111.25 9.01C111.93 11.89 112.62 14.65 113.3 17.28C113.98 19.92 114.67 22.44 115.35 24.84C116.03 27.23 116.72 29.51 117.4 31.67C118.08 33.83 118.77 35.86 119.45 37.79C120.13 39.71 120.82 41.51 121.5 43.2C122.18 44.89 122.87 46.46 123.55 47.92C124.23 49.38 124.92 50.72 125.6 51.95C126.28 53.18 126.97 54.3 127.65 55.31C128.33 56.32 129.02 57.21 129.7 58C130.38 58.79 131.07 59.46 131.75 60.04C132.43 60.62 133.12 61.08 133.8 61.45C134.48 61.82 135.17 62.08 135.85 62.26C136.53 62.43 137.22 62.5 137.9 62.5C138.58 62.5 139.27 62.43 139.95 62.26C140.63 62.08 141.32 61.82 142 61.45C142.68 61.08 143.37 60.62 144.05 60.04C144.73 59.46 145.42 58.79 146.1 58C146.78 57.21 147.47 56.32 148.15 55.31C148.83 54.3 149.52 53.18 150.2 51.95C150.88 50.72 151.57 49.38 152.25 47.92C152.93 46.46 153.62 44.89 154.3 43.2C154.98 41.51 155.67 39.71 156.35 37.79C157.03 35.86 157.72 33.83 158.4 31.67C159.08 29.51 159.77 27.23 160.45 24.84C161.13 22.44 161.82 19.92 162.5 17.28C163.18 14.65 163.87 11.89 164.55 9.01C165.23 6.13 166.09 2.25 166.6 0C167.11 -2.25 167.45 -3.76 167.62 -4.51L167.62 -8L108.18 -8Z" fill="#F0BC6E"/>
<path d="M112.73 -2.99C112.88 -2.49 113.17 -1.49 113.6 0C114.03 1.49 114.76 4.05 115.34 5.95C115.91 7.86 116.49 9.68 117.07 11.42C117.65 13.16 118.23 14.83 118.81 16.41C119.39 18 119.96 19.5 120.54 20.93C121.12 22.35 121.7 23.7 122.28 24.97C122.86 26.24 123.44 27.43 124.01 28.55C124.59 29.66 125.17 30.7 125.75 31.67C126.33 32.63 126.91 33.52 127.49 34.33C128.06 35.14 128.64 35.88 129.22 36.55C129.8 37.21 130.38 37.8 130.96 38.33C131.54 38.85 132.11 39.29 132.69 39.67C133.27 40.05 133.85 40.36 134.43 40.61C135.01 40.85 135.59 41.02 136.16 41.14C136.74 41.25 137.32 41.3 137.9 41.3C138.48 41.3 139.06 41.25 139.64 41.14C140.21 41.02 140.79 40.85 141.37 40.61C141.95 40.36 142.53 40.05 143.11 39.67C143.69 39.29 144.26 38.85 144.84 38.33C145.42 37.8 146 37.21 146.58 36.55C147.16 35.88 147.74 35.14 148.31 34.33C148.89 33.52 149.47 32.63 150.05 31.67C150.63 30.7 151.21 29.66 151.79 28.55C152.36 27.43 152.94 26.24 153.52 24.97C154.1 23.7 154.68 22.35 155.26 20.93C155.84 19.5 156.41 18 156.99 16.41C157.57 14.83 158.15 13.16 158.73 11.42C159.31 9.68 159.89 7.86 160.46 5.95C161.04 4.05 161.77 1.49 162.2 0C162.63 -1.49 162.92 -2.49 163.07 -2.99L163.07 -8L112.73 -8Z" fill="#E8A654"/>
<path d="M117.29 -2.05C117.41 -1.71 117.64 -1.02 118 0C118.36 1.02 118.95 2.77 119.42 4.08C119.9 5.38 120.37 6.63 120.84 7.83C121.32 9.02 121.79 10.16 122.26 11.25C122.74 12.33 123.21 13.36 123.69 14.34C124.16 15.32 124.63 16.24 125.11 17.11C125.58 17.98 126.05 18.8 126.53 19.56C127 20.33 127.48 21.04 127.95 21.7C128.42 22.36 128.9 22.97 129.37 23.52C129.85 24.08 130.32 24.59 130.79 25.04C131.27 25.5 131.74 25.9 132.21 26.26C132.69 26.62 133.16 26.93 133.64 27.19C134.11 27.45 134.58 27.66 135.06 27.82C135.53 27.99 136 28.11 136.48 28.19C136.95 28.27 137.43 28.3 137.9 28.3C138.37 28.3 138.85 28.27 139.32 28.19C139.8 28.11 140.27 27.99 140.74 27.82C141.22 27.66 141.69 27.45 142.16 27.19C142.64 26.93 143.11 26.62 143.59 26.26C144.06 25.9 144.53 25.5 145.01 25.04C145.48 24.59 145.95 24.08 146.43 23.52C146.9 22.97 147.38 22.36 147.85 21.7C148.32 21.04 148.8 20.33 149.27 19.56C149.75 18.8 150.22 17.98 150.69 17.11C151.17 16.24 151.64 15.32 152.11 14.34C152.59 13.36 153.06 12.33 153.54 11.25C154.01 10.16 154.48 9.02 154.96 7.83C155.43 6.63 155.9 5.38 156.38 4.08C156.85 2.77 157.44 1.02 157.8 0C158.16 -1.02 158.39 -1.71 158.51 -2.05L158.51 -8L117.29 -8Z" fill="#BE9060"/>
<path d="M121.33 -1.33C121.42 -1.11 121.61 -0.66 121.9 0C122.19 0.66 122.66 1.79 123.04 2.64C123.42 3.48 123.8 4.29 124.19 5.06C124.57 5.83 124.95 6.57 125.33 7.27C125.71 7.97 126.09 8.64 126.47 9.27C126.85 9.9 127.23 10.5 127.61 11.06C128 11.63 128.38 12.16 128.76 12.65C129.14 13.14 129.52 13.6 129.9 14.03C130.28 14.46 130.66 14.85 131.04 15.21C131.42 15.57 131.8 15.9 132.19 16.19C132.57 16.49 132.95 16.75 133.33 16.98C133.71 17.21 134.09 17.41 134.47 17.58C134.85 17.75 135.23 17.88 135.61 17.99C136 18.1 136.38 18.18 136.76 18.23C137.14 18.28 137.52 18.3 137.9 18.3C138.28 18.3 138.66 18.28 139.04 18.23C139.42 18.18 139.8 18.1 140.19 17.99C140.57 17.88 140.95 17.75 141.33 17.58C141.71 17.41 142.09 17.21 142.47 16.98C142.85 16.75 143.23 16.49 143.61 16.19C144 15.9 144.38 15.57 144.76 15.21C145.14 14.85 145.52 14.46 145.9 14.03C146.28 13.6 146.66 13.14 147.04 12.65C147.42 12.16 147.8 11.63 148.19 11.06C148.57 10.5 148.95 9.9 149.33 9.27C149.71 8.64 150.09 7.97 150.47 7.27C150.85 6.57 151.23 5.83 151.61 5.06C152 4.29 152.38 3.48 152.76 2.64C153.14 1.79 153.61 0.66 153.9 0C154.19 -0.66 154.38 -1.11 154.47 -1.33L154.47 -8L121.33 -8Z" fill="#8C8088"/>
<path d="M125.47 -0.72C125.54 -0.6 125.69 -0.36 125.9 0C126.11 0.36 126.47 0.97 126.76 1.43C127.04 1.88 127.33 2.32 127.61 2.74C127.9 3.16 128.19 3.55 128.47 3.93C128.76 4.31 129.04 4.67 129.33 5.02C129.61 5.36 129.9 5.68 130.19 5.99C130.47 6.29 130.76 6.58 131.04 6.84C131.33 7.11 131.61 7.36 131.9 7.59C132.19 7.82 132.47 8.03 132.76 8.23C133.04 8.42 133.33 8.6 133.61 8.76C133.9 8.92 134.19 9.06 134.47 9.19C134.76 9.31 135.04 9.42 135.33 9.51C135.61 9.6 135.9 9.68 136.19 9.73C136.47 9.79 136.76 9.83 137.04 9.86C137.33 9.89 137.61 9.9 137.9 9.9C138.19 9.9 138.47 9.89 138.76 9.86C139.04 9.83 139.33 9.79 139.61 9.73C139.9 9.68 140.19 9.6 140.47 9.51C140.76 9.42 141.04 9.31 141.33 9.19C141.61 9.06 141.9 8.92 142.19 8.76C142.47 8.6 142.76 8.42 143.04 8.23C143.33 8.03 143.61 7.82 143.9 7.59C144.19 7.36 144.47 7.11 144.76 6.84C145.04 6.58 145.33 6.29 145.61 5.99C145.9 5.68 146.19 5.36 146.47 5.02C146.76 4.67 147.04 4.31 147.33 3.93C147.61 3.55 147.9 3.16 148.19 2.74C148.47 2.32 148.76 1.88 149.04 1.43C149.33 0.97 149.69 0.36 149.9 0C150.11 -0.36 150.26 -0.6 150.33 -0.72L150.33 -8L125.47 -8Z" fill="#5470A5"/>
<path d="M130.86 -0.19C130.9 -0.16 130.98 -0.09 131.1 0C131.22 0.09 131.42 0.25 131.59 0.36C131.75 0.48 131.91 0.59 132.07 0.69C132.23 0.8 132.4 0.9 132.56 0.99C132.72 1.09 132.88 1.18 133.04 1.27C133.2 1.35 133.37 1.43 133.53 1.51C133.69 1.59 133.85 1.66 134.01 1.73C134.18 1.8 134.34 1.86 134.5 1.92C134.66 1.98 134.82 2.03 134.99 2.08C135.15 2.13 135.31 2.17 135.47 2.21C135.63 2.25 135.8 2.29 135.96 2.32C136.12 2.35 136.28 2.38 136.44 2.4C136.6 2.42 136.77 2.44 136.93 2.46C137.09 2.47 137.25 2.48 137.41 2.49C137.58 2.5 137.74 2.5 137.9 2.5C138.06 2.5 138.22 2.5 138.39 2.49C138.55 2.48 138.71 2.47 138.87 2.46C139.03 2.44 139.2 2.42 139.36 2.4C139.52 2.38 139.68 2.35 139.84 2.32C140 2.29 140.17 2.25 140.33 2.21C140.49 2.17 140.65 2.13 140.81 2.08C140.98 2.03 141.14 1.98 141.3 1.92C141.46 1.86 141.62 1.8 141.79 1.73C141.95 1.66 142.11 1.59 142.27 1.51C142.43 1.43 142.6 1.35 142.76 1.27C142.92 1.18 143.08 1.09 143.24 0.99C143.4 0.9 143.57 0.8 143.73 0.69C143.89 0.59 144.05 0.48 144.21 0.36C144.38 0.25 144.58 0.09 144.7 0C144.82 -0.09 144.9 -0.16 144.94 -0.19L144.94 -8L130.86 -8Z" fill="#25528A"/>
<path d="M-6 128.6C-4.95 128.6 -6.57 128.33 0.3 128.6C7.17 128.87 22.67 129.88 35.2 130.2C47.73 130.52 64.32 130.55 75.5 130.5C86.68 130.45 95.58 130.45 102.3 129.9C109.02 129.35 112.33 128.08 115.8 127.2C119.27 126.32 120.87 125.32 123.1 124.6C125.33 123.88 126.95 123.35 129.2 122.9C131.45 122.45 134.13 121.9 136.6 121.9C139.07 121.9 141.77 122.45 144 122.9C146.23 123.35 146.77 123.65 150 124.6C153.23 125.55 158.92 127.62 163.4 128.6C167.88 129.58 171.97 130.37 176.9 130.5C181.83 130.63 187.18 129.8 193 129.4C198.82 129 204.2 128.23 211.8 128.1C219.4 127.97 228.98 128.3 238.6 128.6C248.22 128.9 263.15 129.68 269.5 129.9C275.85 130.12 275.5 129.9 276.7 129.9L276.7 274.8L-6 274.8Z" fill="#F0BC6E"/>
<path d="M-6 161.4C-4.95 161.4 -4.33 161.13 0.3 161.4C4.93 161.67 13.75 162.73 21.8 163C29.85 163.27 39.65 163.23 48.6 163C57.55 162.77 66.55 162.05 75.5 161.6C84.45 161.15 93.02 160.7 102.3 160.3C111.58 159.9 123.25 159.35 131.2 159.2C139.15 159.05 143.28 159.3 150 159.4C156.72 159.5 163.45 159.67 171.5 159.8C179.55 159.93 189.35 160.02 198.3 160.2C207.25 160.38 216.23 160.53 225.2 160.9C234.17 161.27 244.72 161.98 252.1 162.4C259.48 162.82 265.4 163.23 269.5 163.4C273.6 163.57 275.5 163.4 276.7 163.4L276.7 274.8L-6 274.8Z" fill="#E8A654"/>
<path d="M-6 196.5C-4.95 196.5 -4.33 196.35 0.3 196.5C4.93 196.65 13.75 197.35 21.8 197.4C29.85 197.45 39.65 197.08 48.6 196.8C57.55 196.52 66.55 196.02 75.5 195.7C84.45 195.38 95.25 195.12 102.3 194.9C109.35 194.68 110.75 194.53 117.8 194.4C124.85 194.27 135.65 194.05 144.6 194.1C153.55 194.15 162.55 194.52 171.5 194.7C180.45 194.88 189.35 194.93 198.3 195.2C207.25 195.47 216.23 195.93 225.2 196.3C234.17 196.67 244.72 197.13 252.1 197.4C259.48 197.67 265.4 197.82 269.5 197.9C273.6 197.98 275.5 197.9 276.7 197.9L276.7 274.8L-6 274.8Z" fill="#BE9060"/>
<g stroke="#000" stroke-opacity="0.55" stroke-width="1.55" fill="none" stroke-linejoin="round">
<path d="M-6 28C-5 28 -2.33 27.8 0 28C2.33 28.2 5.2 28.95 8 29.2C10.8 29.45 11.68 29.77 16.8 29.5C21.92 29.23 32.62 28.65 38.7 27.6C44.78 26.55 48.92 25.15 53.3 23.2C57.68 21.25 61.6 18.7 65 15.9C68.4 13.1 71.52 9.05 73.7 6.4C75.88 3.75 77 1.6 78.1 0C79.2 -1.6 79.93 -2.67 80.3 -3.21"/>
<path d="M-6 10.8C-5 10.8 -2.33 10.6 0 10.8C2.33 11 5.2 11.75 8 12C10.8 12.25 11.68 12.62 16.8 12.3C21.92 11.98 32.62 11.2 38.7 10.1C44.78 9 48.97 7.38 53.3 5.7C57.63 4.02 61.85 1.43 64.7 0C67.55 -1.43 69.45 -2.38 70.4 -2.86"/>
<path d="M194.25 -4.81C194.93 -4.01 196.28 -2.4 198.3 0C200.33 2.4 203.35 6.63 206.4 9.6C209.45 12.57 213.18 15.58 216.6 17.8C220.02 20.02 223.48 21.53 226.9 22.9C230.32 24.27 233.7 25.15 237.1 26C240.5 26.85 243.9 27.48 247.3 28C250.7 28.52 253.75 28.92 257.5 29.1C261.25 29.28 266.43 29.1 269.8 29.1C273.17 29.1 276.38 29.1 277.7 29.1"/>
<path d="M206.9 -2.81C207.67 -2.34 209.2 -1.4 211.5 0C213.8 1.4 217.45 4.07 220.7 5.6C223.95 7.13 227.58 8.25 231 9.2C234.42 10.15 237.47 10.78 241.2 11.3C244.93 11.82 249.65 12.13 253.4 12.3C257.15 12.47 260.97 12.4 263.7 12.3C266.43 12.2 267.47 11.93 269.8 11.7C272.13 11.47 276.38 11.05 277.7 10.92"/>
<path d="M10 -0.29C10.42 -0.24 11.25 -0.14 12.5 0C13.75 0.14 15.83 0.55 17.5 0.55C19.17 0.55 21.25 0.14 22.5 0C23.75 -0.14 24.58 -0.24 25 -0.29"/>
<path d="M254.35 -0.26C254.71 -0.22 255.43 -0.13 256.5 0C257.57 0.13 259.38 0.5 260.8 0.5C262.22 0.5 263.95 0.13 265 0C266.05 -0.13 266.75 -0.22 267.1 -0.26"/>
<path d="M95.55 -7.61C94.83 -6.34 93.38 -3.8 91.2 0C89.03 3.8 85.42 9.98 82.5 15.2C79.58 20.42 76.62 26.18 73.7 31.3C70.78 36.42 68.15 41.28 65 45.9C61.85 50.52 57.72 55.48 54.8 59C51.88 62.52 49.02 65.17 47.5 67C45.98 68.83 45.87 68.83 45.7 70C45.53 71.17 45.85 72.63 46.5 74C47.15 75.37 47.73 76.57 49.6 78.2C51.47 79.83 55.25 82.45 57.7 83.8C60.15 85.15 60.75 84.73 64.3 86.3C67.85 87.87 74.1 91.35 79 93.2C83.9 95.05 89.5 97.05 93.7 97.4C97.9 97.75 101.05 97.23 104.2 95.3C107.35 93.37 110.6 89.35 112.6 85.8C114.6 82.25 115.77 77.73 116.2 74C116.63 70.27 115.75 68.67 115.2 63.4C114.65 58.13 114.15 49.7 112.9 42.4C111.65 35.1 109.73 26.67 107.7 19.6C105.67 12.53 102.45 4.9 100.7 0C98.95 -4.9 97.78 -8.18 97.2 -9.81"/>
<path d="M182.75 -3.51C183.06 -2.92 183.67 -1.75 184.6 0C185.53 1.75 186.82 4.03 188.3 7C189.78 9.97 191.67 14.28 193.5 17.8C195.33 21.32 197.55 25.07 199.3 28.1C201.05 31.13 202.47 33.45 204 36C205.53 38.55 206.95 40.9 208.5 43.4C210.05 45.9 211.77 48.58 213.3 51C214.83 53.42 216.42 55.73 217.7 57.9C218.98 60.07 220.18 62.27 221 64C221.82 65.73 222.47 66.92 222.6 68.3C222.73 69.68 222.73 70.72 221.8 72.3C220.87 73.88 218.87 75.97 217 77.8C215.13 79.63 213.38 81.28 210.6 83.3C207.82 85.32 203.72 88.03 200.3 89.9C196.88 91.77 193.17 93.38 190.1 94.5C187.03 95.62 184.63 96.43 181.9 96.6C179.17 96.77 176.42 97.05 173.7 95.5C170.98 93.95 167.82 90.7 165.6 87.3C163.38 83.9 161.5 79.53 160.4 75.1C159.3 70.67 158.65 66.5 159 60.7C159.35 54.9 160.9 47.45 162.5 40.3C164.1 33.15 166.55 24.52 168.6 17.8C170.65 11.08 173.25 4.45 174.8 0C176.35 -4.45 177.38 -7.42 177.9 -8.91"/>
<path d="M108.18 -4.51C108.35 -3.76 108.69 -2.25 109.2 0C109.71 2.25 110.57 6.13 111.25 9.01C111.93 11.89 112.62 14.65 113.3 17.28C113.98 19.92 114.67 22.44 115.35 24.84C116.03 27.23 116.72 29.51 117.4 31.67C118.08 33.83 118.77 35.86 119.45 37.79C120.13 39.71 120.82 41.51 121.5 43.2C122.18 44.89 122.87 46.46 123.55 47.92C124.23 49.38 124.92 50.72 125.6 51.95C126.28 53.18 126.97 54.3 127.65 55.31C128.33 56.32 129.02 57.21 129.7 58C130.38 58.79 131.07 59.46 131.75 60.04C132.43 60.62 133.12 61.08 133.8 61.45C134.48 61.82 135.17 62.08 135.85 62.26C136.53 62.43 137.22 62.5 137.9 62.5C138.58 62.5 139.27 62.43 139.95 62.26C140.63 62.08 141.32 61.82 142 61.45C142.68 61.08 143.37 60.62 144.05 60.04C144.73 59.46 145.42 58.79 146.1 58C146.78 57.21 147.47 56.32 148.15 55.31C148.83 54.3 149.52 53.18 150.2 51.95C150.88 50.72 151.57 49.38 152.25 47.92C152.93 46.46 153.62 44.89 154.3 43.2C154.98 41.51 155.67 39.71 156.35 37.79C157.03 35.86 157.72 33.83 158.4 31.67C159.08 29.51 159.77 27.23 160.45 24.84C161.13 22.44 161.82 19.92 162.5 17.28C163.18 14.65 163.87 11.89 164.55 9.01C165.23 6.13 166.09 2.25 166.6 0C167.11 -2.25 167.45 -3.76 167.62 -4.51"/>
<path d="M112.73 -2.99C112.88 -2.49 113.17 -1.49 113.6 0C114.03 1.49 114.76 4.05 115.34 5.95C115.91 7.86 116.49 9.68 117.07 11.42C117.65 13.16 118.23 14.83 118.81 16.41C119.39 18 119.96 19.5 120.54 20.93C121.12 22.35 121.7 23.7 122.28 24.97C122.86 26.24 123.44 27.43 124.01 28.55C124.59 29.66 125.17 30.7 125.75 31.67C126.33 32.63 126.91 33.52 127.49 34.33C128.06 35.14 128.64 35.88 129.22 36.55C129.8 37.21 130.38 37.8 130.96 38.33C131.54 38.85 132.11 39.29 132.69 39.67C133.27 40.05 133.85 40.36 134.43 40.61C135.01 40.85 135.59 41.02 136.16 41.14C136.74 41.25 137.32 41.3 137.9 41.3C138.48 41.3 139.06 41.25 139.64 41.14C140.21 41.02 140.79 40.85 141.37 40.61C141.95 40.36 142.53 40.05 143.11 39.67C143.69 39.29 144.26 38.85 144.84 38.33C145.42 37.8 146 37.21 146.58 36.55C147.16 35.88 147.74 35.14 148.31 34.33C148.89 33.52 149.47 32.63 150.05 31.67C150.63 30.7 151.21 29.66 151.79 28.55C152.36 27.43 152.94 26.24 153.52 24.97C154.1 23.7 154.68 22.35 155.26 20.93C155.84 19.5 156.41 18 156.99 16.41C157.57 14.83 158.15 13.16 158.73 11.42C159.31 9.68 159.89 7.86 160.46 5.95C161.04 4.05 161.77 1.49 162.2 0C162.63 -1.49 162.92 -2.49 163.07 -2.99"/>
<path d="M117.29 -2.05C117.41 -1.71 117.64 -1.02 118 0C118.36 1.02 118.95 2.77 119.42 4.08C119.9 5.38 120.37 6.63 120.84 7.83C121.32 9.02 121.79 10.16 122.26 11.25C122.74 12.33 123.21 13.36 123.69 14.34C124.16 15.32 124.63 16.24 125.11 17.11C125.58 17.98 126.05 18.8 126.53 19.56C127 20.33 127.48 21.04 127.95 21.7C128.42 22.36 128.9 22.97 129.37 23.52C129.85 24.08 130.32 24.59 130.79 25.04C131.27 25.5 131.74 25.9 132.21 26.26C132.69 26.62 133.16 26.93 133.64 27.19C134.11 27.45 134.58 27.66 135.06 27.82C135.53 27.99 136 28.11 136.48 28.19C136.95 28.27 137.43 28.3 137.9 28.3C138.37 28.3 138.85 28.27 139.32 28.19C139.8 28.11 140.27 27.99 140.74 27.82C141.22 27.66 141.69 27.45 142.16 27.19C142.64 26.93 143.11 26.62 143.59 26.26C144.06 25.9 144.53 25.5 145.01 25.04C145.48 24.59 145.95 24.08 146.43 23.52C146.9 22.97 147.38 22.36 147.85 21.7C148.32 21.04 148.8 20.33 149.27 19.56C149.75 18.8 150.22 17.98 150.69 17.11C151.17 16.24 151.64 15.32 152.11 14.34C152.59 13.36 153.06 12.33 153.54 11.25C154.01 10.16 154.48 9.02 154.96 7.83C155.43 6.63 155.9 5.38 156.38 4.08C156.85 2.77 157.44 1.02 157.8 0C158.16 -1.02 158.39 -1.71 158.51 -2.05"/>
<path d="M121.33 -1.33C121.42 -1.11 121.61 -0.66 121.9 0C122.19 0.66 122.66 1.79 123.04 2.64C123.42 3.48 123.8 4.29 124.19 5.06C124.57 5.83 124.95 6.57 125.33 7.27C125.71 7.97 126.09 8.64 126.47 9.27C126.85 9.9 127.23 10.5 127.61 11.06C128 11.63 128.38 12.16 128.76 12.65C129.14 13.14 129.52 13.6 129.9 14.03C130.28 14.46 130.66 14.85 131.04 15.21C131.42 15.57 131.8 15.9 132.19 16.19C132.57 16.49 132.95 16.75 133.33 16.98C133.71 17.21 134.09 17.41 134.47 17.58C134.85 17.75 135.23 17.88 135.61 17.99C136 18.1 136.38 18.18 136.76 18.23C137.14 18.28 137.52 18.3 137.9 18.3C138.28 18.3 138.66 18.28 139.04 18.23C139.42 18.18 139.8 18.1 140.19 17.99C140.57 17.88 140.95 17.75 141.33 17.58C141.71 17.41 142.09 17.21 142.47 16.98C142.85 16.75 143.23 16.49 143.61 16.19C144 15.9 144.38 15.57 144.76 15.21C145.14 14.85 145.52 14.46 145.9 14.03C146.28 13.6 146.66 13.14 147.04 12.65C147.42 12.16 147.8 11.63 148.19 11.06C148.57 10.5 148.95 9.9 149.33 9.27C149.71 8.64 150.09 7.97 150.47 7.27C150.85 6.57 151.23 5.83 151.61 5.06C152 4.29 152.38 3.48 152.76 2.64C153.14 1.79 153.61 0.66 153.9 0C154.19 -0.66 154.38 -1.11 154.47 -1.33"/>
<path d="M125.47 -0.72C125.54 -0.6 125.69 -0.36 125.9 0C126.11 0.36 126.47 0.97 126.76 1.43C127.04 1.88 127.33 2.32 127.61 2.74C127.9 3.16 128.19 3.55 128.47 3.93C128.76 4.31 129.04 4.67 129.33 5.02C129.61 5.36 129.9 5.68 130.19 5.99C130.47 6.29 130.76 6.58 131.04 6.84C131.33 7.11 131.61 7.36 131.9 7.59C132.19 7.82 132.47 8.03 132.76 8.23C133.04 8.42 133.33 8.6 133.61 8.76C133.9 8.92 134.19 9.06 134.47 9.19C134.76 9.31 135.04 9.42 135.33 9.51C135.61 9.6 135.9 9.68 136.19 9.73C136.47 9.79 136.76 9.83 137.04 9.86C137.33 9.89 137.61 9.9 137.9 9.9C138.19 9.9 138.47 9.89 138.76 9.86C139.04 9.83 139.33 9.79 139.61 9.73C139.9 9.68 140.19 9.6 140.47 9.51C140.76 9.42 141.04 9.31 141.33 9.19C141.61 9.06 141.9 8.92 142.19 8.76C142.47 8.6 142.76 8.42 143.04 8.23C143.33 8.03 143.61 7.82 143.9 7.59C144.19 7.36 144.47 7.11 144.76 6.84C145.04 6.58 145.33 6.29 145.61 5.99C145.9 5.68 146.19 5.36 146.47 5.02C146.76 4.67 147.04 4.31 147.33 3.93C147.61 3.55 147.9 3.16 148.19 2.74C148.47 2.32 148.76 1.88 149.04 1.43C149.33 0.97 149.69 0.36 149.9 0C150.11 -0.36 150.26 -0.6 150.33 -0.72"/>
<path d="M130.86 -0.19C130.9 -0.16 130.98 -0.09 131.1 0C131.22 0.09 131.42 0.25 131.59 0.36C131.75 0.48 131.91 0.59 132.07 0.69C132.23 0.8 132.4 0.9 132.56 0.99C132.72 1.09 132.88 1.18 133.04 1.27C133.2 1.35 133.37 1.43 133.53 1.51C133.69 1.59 133.85 1.66 134.01 1.73C134.18 1.8 134.34 1.86 134.5 1.92C134.66 1.98 134.82 2.03 134.99 2.08C135.15 2.13 135.31 2.17 135.47 2.21C135.63 2.25 135.8 2.29 135.96 2.32C136.12 2.35 136.28 2.38 136.44 2.4C136.6 2.42 136.77 2.44 136.93 2.46C137.09 2.47 137.25 2.48 137.41 2.49C137.58 2.5 137.74 2.5 137.9 2.5C138.06 2.5 138.22 2.5 138.39 2.49C138.55 2.48 138.71 2.47 138.87 2.46C139.03 2.44 139.2 2.42 139.36 2.4C139.52 2.38 139.68 2.35 139.84 2.32C140 2.29 140.17 2.25 140.33 2.21C140.49 2.17 140.65 2.13 140.81 2.08C140.98 2.03 141.14 1.98 141.3 1.92C141.46 1.86 141.62 1.8 141.79 1.73C141.95 1.66 142.11 1.59 142.27 1.51C142.43 1.43 142.6 1.35 142.76 1.27C142.92 1.18 143.08 1.09 143.24 0.99C143.4 0.9 143.57 0.8 143.73 0.69C143.89 0.59 144.05 0.48 144.21 0.36C144.38 0.25 144.58 0.09 144.7 0C144.82 -0.09 144.9 -0.16 144.94 -0.19"/>
<path d="M-6 128.6C-4.95 128.6 -6.57 128.33 0.3 128.6C7.17 128.87 22.67 129.88 35.2 130.2C47.73 130.52 64.32 130.55 75.5 130.5C86.68 130.45 95.58 130.45 102.3 129.9C109.02 129.35 112.33 128.08 115.8 127.2C119.27 126.32 120.87 125.32 123.1 124.6C125.33 123.88 126.95 123.35 129.2 122.9C131.45 122.45 134.13 121.9 136.6 121.9C139.07 121.9 141.77 122.45 144 122.9C146.23 123.35 146.77 123.65 150 124.6C153.23 125.55 158.92 127.62 163.4 128.6C167.88 129.58 171.97 130.37 176.9 130.5C181.83 130.63 187.18 129.8 193 129.4C198.82 129 204.2 128.23 211.8 128.1C219.4 127.97 228.98 128.3 238.6 128.6C248.22 128.9 263.15 129.68 269.5 129.9C275.85 130.12 275.5 129.9 276.7 129.9"/>
<path d="M-6 161.4C-4.95 161.4 -4.33 161.13 0.3 161.4C4.93 161.67 13.75 162.73 21.8 163C29.85 163.27 39.65 163.23 48.6 163C57.55 162.77 66.55 162.05 75.5 161.6C84.45 161.15 93.02 160.7 102.3 160.3C111.58 159.9 123.25 159.35 131.2 159.2C139.15 159.05 143.28 159.3 150 159.4C156.72 159.5 163.45 159.67 171.5 159.8C179.55 159.93 189.35 160.02 198.3 160.2C207.25 160.38 216.23 160.53 225.2 160.9C234.17 161.27 244.72 161.98 252.1 162.4C259.48 162.82 265.4 163.23 269.5 163.4C273.6 163.57 275.5 163.4 276.7 163.4"/>
<path d="M-6 196.5C-4.95 196.5 -4.33 196.35 0.3 196.5C4.93 196.65 13.75 197.35 21.8 197.4C29.85 197.45 39.65 197.08 48.6 196.8C57.55 196.52 66.55 196.02 75.5 195.7C84.45 195.38 95.25 195.12 102.3 194.9C109.35 194.68 110.75 194.53 117.8 194.4C124.85 194.27 135.65 194.05 144.6 194.1C153.55 194.15 162.55 194.52 171.5 194.7C180.45 194.88 189.35 194.93 198.3 195.2C207.25 195.47 216.23 195.93 225.2 196.3C234.17 196.67 244.72 197.13 252.1 197.4C259.48 197.67 265.4 197.82 269.5 197.9C273.6 197.98 275.5 197.9 276.7 197.9"/>
</g>
</g>
<rect x="405.2" y="406.6" width="280.5" height="280.4" fill="none" stroke="#9a9a9a" stroke-width="0.9"/>
<path d="M410.45 687v-3.4 M410.45 406.6v3.4 M418.16 687v-2 M418.16 406.6v2 M425.87 687v-2 M425.87 406.6v2 M433.59 687v-2 M433.59 406.6v2 M441.3 687v-2 M441.3 406.6v2 M449.01 687v-3.4 M449.01 406.6v3.4 M456.72 687v-2 M456.72 406.6v2 M464.43 687v-2 M464.43 406.6v2 M472.15 687v-2 M472.15 406.6v2 M479.86 687v-2 M479.86 406.6v2 M487.57 687v-3.4 M487.57 406.6v3.4 M495.28 687v-2 M495.28 406.6v2 M502.99 687v-2 M502.99 406.6v2 M510.71 687v-2 M510.71 406.6v2 M518.42 687v-2 M518.42 406.6v2 M526.13 687v-3.4 M526.13 406.6v3.4 M533.84 687v-2 M533.84 406.6v2 M541.55 687v-2 M541.55 406.6v2 M549.27 687v-2 M549.27 406.6v2 M556.98 687v-2 M556.98 406.6v2 M564.69 687v-3.4 M564.69 406.6v3.4 M572.4 687v-2 M572.4 406.6v2 M580.11 687v-2 M580.11 406.6v2 M587.83 687v-2 M587.83 406.6v2 M595.54 687v-2 M595.54 406.6v2 M603.25 687v-3.4 M603.25 406.6v3.4 M610.96 687v-2 M610.96 406.6v2 M618.67 687v-2 M618.67 406.6v2 M626.39 687v-2 M626.39 406.6v2 M634.1 687v-2 M634.1 406.6v2 M641.81 687v-3.4 M641.81 406.6v3.4 M649.52 687v-2 M649.52 406.6v2 M657.23 687v-2 M657.23 406.6v2 M664.95 687v-2 M664.95 406.6v2 M672.66 687v-2 M672.66 406.6v2 M680.37 687v-3.4 M680.37 406.6v3.4 M405.2 681.7h3.8 M685.7 681.7h-3.8 M405.2 667.35h2.4 M685.7 667.35h-2.4 M405.2 653h2.4 M685.7 653h-2.4 M405.2 638.65h2.4 M685.7 638.65h-2.4 M405.2 624.3h3.8 M685.7 624.3h-3.8 M405.2 609.95h2.4 M685.7 609.95h-2.4 M405.2 595.6h2.4 M685.7 595.6h-2.4 M405.2 581.25h2.4 M685.7 581.25h-2.4 M405.2 566.9h3.8 M685.7 566.9h-3.8 M405.2 552.55h2.4 M685.7 552.55h-2.4 M405.2 538.2h2.4 M685.7 538.2h-2.4 M405.2 523.85h2.4 M685.7 523.85h-2.4 M405.2 509.5h3.8 M685.7 509.5h-3.8 M405.2 495.15h2.4 M685.7 495.15h-2.4 M405.2 480.8h2.4 M685.7 480.8h-2.4 M405.2 466.45h2.4 M685.7 466.45h-2.4 M405.2 452.1h3.8 M685.7 452.1h-3.8 M405.2 437.75h2.4 M685.7 437.75h-2.4 M405.2 423.4h2.4 M685.7 423.4h-2.4 M405.2 409.05h2.4 M685.7 409.05h-2.4 " stroke="#6e6e6e" stroke-width="0.7" fill="none"/>
<g font-family="Liberation Sans, Arial, Helvetica, sans-serif" font-weight="bold" font-size="18.2px" fill="#000">
<text x="401.6" y="688.4" text-anchor="end">0.0</text>
<text x="401.6" y="631" text-anchor="end">0.2</text>
<text x="401.6" y="573.6" text-anchor="end">0.4</text>
<text x="401.6" y="516.2" text-anchor="end">0.6</text>
<text x="401.6" y="458.8" text-anchor="end">0.8</text>
<text x="398.85" y="707.6"><tspan font-size="22.4px" dy="1.2">-</tspan><tspan dy="-1.2" dx="5.6">2</tspan></text>
<text x="437.41" y="707.6"><tspan font-size="22.4px" dy="1.2">-</tspan><tspan dy="-1.2" dx="5.6">1</tspan></text>
<text x="487.97" y="707.6" text-anchor="middle">0</text>
<text x="526.53" y="707.6" text-anchor="middle">1</text>
<text x="565.09" y="707.6" text-anchor="middle">2</text>
<text x="603.65" y="707.6" text-anchor="middle">3</text>
<text x="642.21" y="707.6" text-anchor="middle">4</text>
<text x="680.77" y="707.6" text-anchor="middle">5</text>
<text x="545.1" y="736.4" text-anchor="middle">z</text>
<text transform="translate(365.1 547.1) rotate(-90)" text-anchor="middle">r</text>
</g>
<text x="544.7" y="767.7" text-anchor="middle" font-family="Liberation Serif, serif" font-size="21.5px" fill="#111"><tspan font-size="24.5px">(</tspan>d<tspan font-size="24.5px">)</tspan></text>
</svg>
</body></html>
